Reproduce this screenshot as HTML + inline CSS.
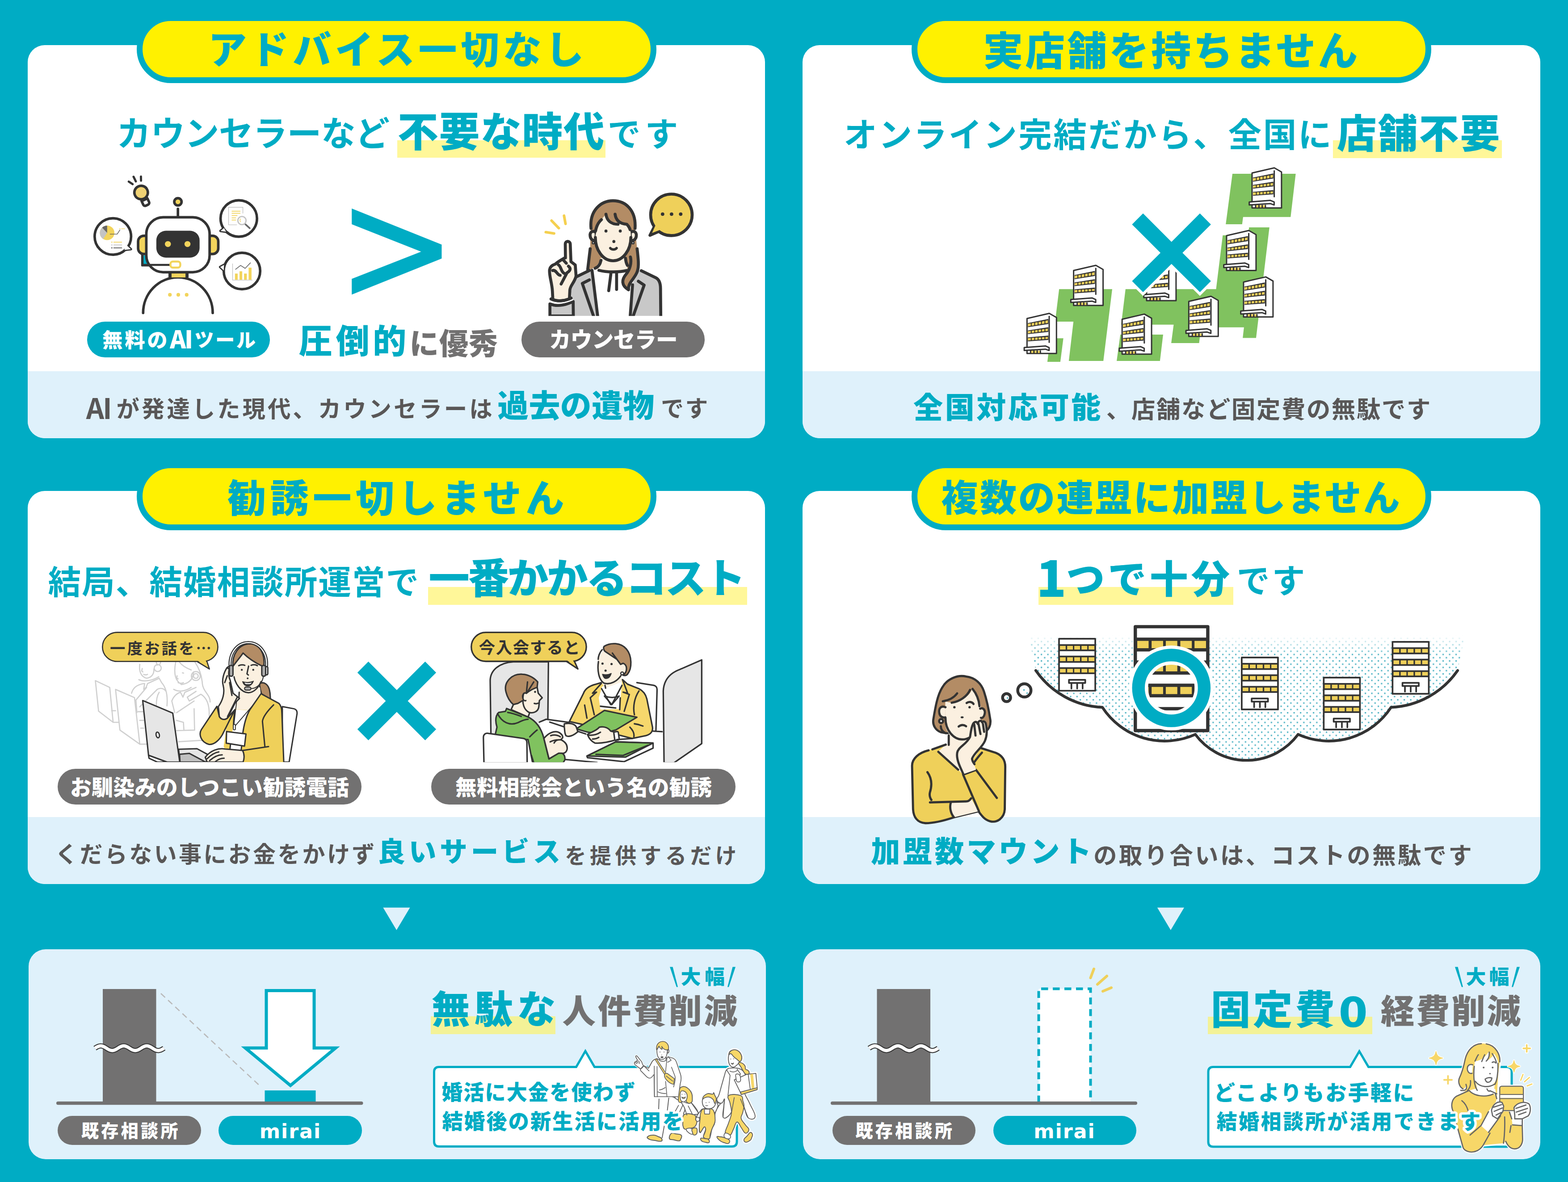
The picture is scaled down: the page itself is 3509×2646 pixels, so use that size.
<!DOCTYPE html>
<html lang="ja"><head><meta charset="utf-8"><title>mirai</title>
<style>
*{margin:0;padding:0;box-sizing:border-box}
html,body{width:3509px;height:2646px;background:#00acc4;overflow:hidden}
body{font-family:"Liberation Sans","Noto Sans CJK JP",sans-serif}
#page{position:relative;width:3509px;height:2646px;background:#00acc4;overflow:hidden}
.abs{position:absolute}
.card{position:absolute;width:1650.2px;height:880px;background:#fff;border-radius:38px;overflow:hidden}
.card .foot{position:absolute;left:0;right:0;bottom:0;height:150px;background:#dff1fb}
.pill{position:absolute;width:1163px;height:152px;border-radius:76px;background:#fff100;border:13.5px solid #00acc4}
.panel{position:absolute;width:1650px;height:469.5px;background:#dff1fb;border-radius:38px}
.t{position:absolute;white-space:nowrap;line-height:1}
.halo{text-shadow:5.50px 0.00px 0 #fff,5.23px 1.70px 0 #fff,4.45px 3.23px 0 #fff,3.23px 4.45px 0 #fff,1.70px 5.23px 0 #fff,0.00px 5.50px 0 #fff,-1.70px 5.23px 0 #fff,-3.23px 4.45px 0 #fff,-4.45px 3.23px 0 #fff,-5.23px 1.70px 0 #fff,-5.50px 0.00px 0 #fff,-5.23px -1.70px 0 #fff,-4.45px -3.23px 0 #fff,-3.23px -4.45px 0 #fff,-1.70px -5.23px 0 #fff,-0.00px -5.50px 0 #fff,1.70px -5.23px 0 #fff,3.23px -4.45px 0 #fff,4.45px -3.23px 0 #fff,5.23px -1.70px 0 #fff,3.00px 0.00px 0 #fff,2.43px 1.76px 0 #fff,0.93px 2.85px 0 #fff,-0.93px 2.85px 0 #fff,-2.43px 1.76px 0 #fff,-3.00px 0.00px 0 #fff,-2.43px -1.76px 0 #fff,-0.93px -2.85px 0 #fff,0.93px -2.85px 0 #fff,2.43px -1.76px 0 #fff}
.halo2{-webkit-text-stroke:12px #fff;paint-order:stroke fill}
.hl{position:absolute;background:#fff799}
.lab{position:absolute;border-radius:40px}
svg{position:absolute;overflow:visible}
</style></head>
<body><div id="page">
<div class="card" style="left:62.2px;top:101px"><div class="foot"></div></div>
<div class="card" style="left:1796.4px;top:101px"><div class="foot"></div></div>
<div class="card" style="left:62.2px;top:1098.5px"><div class="foot"></div></div>
<div class="card" style="left:1796.4px;top:1098.5px"><div class="foot"></div></div>
<div class="panel" style="left:64px;top:2125px"></div>
<div class="panel" style="left:1796.5px;top:2125px"></div>
<div class="pill" style="left:306px;top:34px"></div>
<div class="pill" style="left:2040px;top:34px"></div>
<div class="pill" style="left:306px;top:1035px"></div>
<div class="pill" style="left:2040px;top:1035px"></div>
<div class="hl" style="left:889px;top:314px;width:466px;height:39px;background:#fff799"></div>
<div class="hl" style="left:2983px;top:314px;width:377.5px;height:39.5px;background:#fff799"></div>
<div class="hl" style="left:957.5px;top:1314px;width:714.0px;height:39.5px;background:#fff799"></div>
<div class="hl" style="left:2324px;top:1314px;width:436px;height:39.5px;background:#fff799"></div>
<div class="hl" style="left:964px;top:2275px;width:279px;height:40px;background:#f3f297"></div>
<div class="hl" style="left:2703px;top:2276px;width:367.5px;height:38.5px;background:#f3f297"></div>
<div class="lab" style="left:195px;top:720px;width:409px;height:80px;background:#00acc4;border-radius:40.0px"></div>
<div class="lab" style="left:1166.5px;top:720px;width:410.0px;height:80px;background:#727171;border-radius:40.0px"></div>
<div class="lab" style="left:129px;top:1721px;width:680px;height:80px;background:#727171;border-radius:40.0px"></div>
<div class="lab" style="left:965px;top:1721px;width:681px;height:80px;background:#727171;border-radius:40.0px"></div>
<div class="lab" style="left:129px;top:2498px;width:321px;height:65.30000000000018px;background:#727171;border-radius:32.65000000000009px"></div>
<div class="lab" style="left:489.3px;top:2498px;width:320.7px;height:65.30000000000018px;background:#00acc4;border-radius:32.65000000000009px"></div>
<div class="lab" style="left:1862.5px;top:2498px;width:320.0px;height:65.30000000000018px;background:#727171;border-radius:32.65000000000009px"></div>
<div class="lab" style="left:2222.5px;top:2498px;width:320.0px;height:65.30000000000018px;background:#00acc4;border-radius:32.65000000000009px"></div>
<svg class="abs" style="left:0;top:0" width="3509" height="2646" viewBox="0 0 3509 2646"><polygon points="2758.06,388.99 2899.65,388.99 2888.26,485.82 2781.93,485.82 2779.76,502.1 2743.14,502.1" fill="#80c25f"/>
<polygon points="2795.22,508.88 2840.79,508.88 2810.95,756.52 2781.12,756.52 2783.83,732.65 2687.81,732.65 2683.47,767.92 2621.08,767.92 2626.51,726.69 2509.06,726.69 2518.82,647.21 2721.44,647.21 2736.36,526.78 2793.32,526.78" fill="#80c25f"/>
<polygon points="2507.16,748.93 2602.91,748.93 2595.86,808.06 2499.02,808.06" fill="#80c25f"/>
<polygon points="2370.18,647.21 2488.99,647.21 2469.18,808.06 2391.88,808.06 2402.19,719.91 2361.23,719.91" fill="#80c25f"/>
<polygon points="2350.38,757.34 2379.67,757.34 2372.89,809.96 2343.87,809.96" fill="#80c25f"/>
<g stroke="#333333" stroke-width="3.0" stroke-linejoin="round" stroke-linecap="round"><polygon points="2801.95,465.4 2801.95,387.28 2851.72,375.75 2867.87,384.98 2867.87,465.4" fill="#fff"/><polygon points="2803.93,397.5 2849.74,388.27 2849.74,399.48 2803.93,406.73" fill="#333333" stroke="none"/><polygon points="2803.93,399.15 2810.42,398.01 2810.42,403.76 2803.93,404.88" fill="#efd05a" stroke="none"/><polygon points="2812.48,397.65 2818.05,396.67 2818.05,402.45 2812.48,403.41" fill="#efd05a" stroke="none"/><polygon points="2820.12,396.31 2825.69,395.33 2825.69,401.13 2820.12,402.09" fill="#efd05a" stroke="none"/><polygon points="2827.75,394.97 2833.33,393.99 2833.33,399.81 2827.75,400.77" fill="#efd05a" stroke="none"/><polygon points="2835.39,393.63 2840.96,392.65 2840.96,398.49 2835.39,399.45" fill="#efd05a" stroke="none"/><polygon points="2843.02,392.29 2848.6,391.31 2848.6,397.17 2843.02,398.13" fill="#efd05a" stroke="none"/><polygon points="2803.93,413.98 2849.74,406.73 2849.74,417.28 2803.93,422.22" fill="#333333" stroke="none"/><polygon points="2803.93,415.63 2810.42,414.77 2810.42,419.58 2803.93,420.38" fill="#efd05a" stroke="none"/><polygon points="2812.48,414.5 2818.05,413.76 2818.05,418.65 2812.48,419.33" fill="#efd05a" stroke="none"/><polygon points="2820.12,413.49 2825.69,412.75 2825.69,417.71 2820.12,418.4" fill="#efd05a" stroke="none"/><polygon points="2827.75,412.48 2833.33,411.74 2833.33,416.78 2827.75,417.46" fill="#efd05a" stroke="none"/><polygon points="2835.39,411.46 2840.96,410.73 2840.96,415.85 2835.39,416.53" fill="#efd05a" stroke="none"/><polygon points="2843.02,410.45 2848.6,409.72 2848.6,414.91 2843.02,415.59" fill="#efd05a" stroke="none"/><polygon points="2803.93,429.47 2849.74,425.52 2849.74,435.08 2803.93,438.37" fill="#333333" stroke="none"/><polygon points="2803.93,431.12 2810.42,430.73 2810.42,435.97 2803.93,436.53" fill="#efd05a" stroke="none"/><polygon points="2812.48,430.6 2818.05,430.27 2818.05,435.31 2812.48,435.79" fill="#efd05a" stroke="none"/><polygon points="2820.12,430.14 2825.69,429.81 2825.69,434.65 2820.12,435.13" fill="#efd05a" stroke="none"/><polygon points="2827.75,429.68 2833.33,429.34 2833.33,433.99 2827.75,434.47" fill="#efd05a" stroke="none"/><polygon points="2835.39,429.22 2840.96,428.88 2840.96,433.33 2835.39,433.81" fill="#efd05a" stroke="none"/><polygon points="2843.02,428.76 2848.6,428.42 2848.6,432.67 2843.02,433.15" fill="#efd05a" stroke="none"/><line x1="2851.59" y1="382.47" x2="2851.59" y2="440.35"/><rect x="2809.86" y="459.14" width="22.08" height="5.27" fill="#efd05a" stroke="none"/><line x1="2809.86" y1="459.8" x2="2809.86" y2="464.74"/><line x1="2817.44" y1="459.8" x2="2817.44" y2="464.74"/><line x1="2824.69" y1="459.8" x2="2824.69" y2="464.74"/><line x1="2831.94" y1="459.8" x2="2831.94" y2="464.74"/><polygon points="2795.69,452.21 2843.15,448.59 2851.39,452.21 2851.39,458.81 2843.15,455.84 2795.69,458.81" fill="#fff"/></g>
<g stroke="#333333" stroke-width="3.0" stroke-linejoin="round" stroke-linecap="round"><polygon points="2744.95,605.6 2744.95,527.48 2794.72,515.95 2810.87,525.18 2810.87,605.6" fill="#fff"/><polygon points="2746.93,537.7 2792.74,528.47 2792.74,539.68 2746.93,546.93" fill="#333333" stroke="none"/><polygon points="2746.93,539.35 2753.42,538.21 2753.42,543.96 2746.93,545.08" fill="#efd05a" stroke="none"/><polygon points="2755.48,537.85 2761.05,536.87 2761.05,542.65 2755.48,543.61" fill="#efd05a" stroke="none"/><polygon points="2763.12,536.51 2768.69,535.53 2768.69,541.33 2763.12,542.29" fill="#efd05a" stroke="none"/><polygon points="2770.75,535.17 2776.33,534.19 2776.33,540.01 2770.75,540.97" fill="#efd05a" stroke="none"/><polygon points="2778.39,533.83 2783.96,532.85 2783.96,538.69 2778.39,539.65" fill="#efd05a" stroke="none"/><polygon points="2786.02,532.49 2791.6,531.51 2791.6,537.37 2786.02,538.33" fill="#efd05a" stroke="none"/><polygon points="2746.93,554.18 2792.74,546.93 2792.74,557.48 2746.93,562.42" fill="#333333" stroke="none"/><polygon points="2746.93,555.83 2753.42,554.97 2753.42,559.78 2746.93,560.58" fill="#efd05a" stroke="none"/><polygon points="2755.48,554.7 2761.05,553.96 2761.05,558.85 2755.48,559.53" fill="#efd05a" stroke="none"/><polygon points="2763.12,553.69 2768.69,552.95 2768.69,557.91 2763.12,558.6" fill="#efd05a" stroke="none"/><polygon points="2770.75,552.68 2776.33,551.94 2776.33,556.98 2770.75,557.66" fill="#efd05a" stroke="none"/><polygon points="2778.39,551.66 2783.96,550.93 2783.96,556.05 2778.39,556.73" fill="#efd05a" stroke="none"/><polygon points="2786.02,550.65 2791.6,549.92 2791.6,555.11 2786.02,555.79" fill="#efd05a" stroke="none"/><polygon points="2746.93,569.67 2792.74,565.72 2792.74,575.28 2746.93,578.57" fill="#333333" stroke="none"/><polygon points="2746.93,571.32 2753.42,570.93 2753.42,576.17 2746.93,576.73" fill="#efd05a" stroke="none"/><polygon points="2755.48,570.8 2761.05,570.47 2761.05,575.51 2755.48,575.99" fill="#efd05a" stroke="none"/><polygon points="2763.12,570.34 2768.69,570.01 2768.69,574.85 2763.12,575.33" fill="#efd05a" stroke="none"/><polygon points="2770.75,569.88 2776.33,569.54 2776.33,574.19 2770.75,574.67" fill="#efd05a" stroke="none"/><polygon points="2778.39,569.42 2783.96,569.08 2783.96,573.53 2778.39,574.01" fill="#efd05a" stroke="none"/><polygon points="2786.02,568.96 2791.6,568.62 2791.6,572.87 2786.02,573.35" fill="#efd05a" stroke="none"/><line x1="2794.59" y1="522.67" x2="2794.59" y2="580.55"/><rect x="2752.86" y="599.34" width="22.08" height="5.27" fill="#efd05a" stroke="none"/><line x1="2752.86" y1="600" x2="2752.86" y2="604.94"/><line x1="2760.44" y1="600" x2="2760.44" y2="604.94"/><line x1="2767.69" y1="600" x2="2767.69" y2="604.94"/><line x1="2774.94" y1="600" x2="2774.94" y2="604.94"/><polygon points="2738.69,592.41 2786.15,588.79 2794.39,592.41 2794.39,599.01 2786.15,596.04 2738.69,599.01" fill="#fff"/></g>
<g stroke="#333333" stroke-width="3.0" stroke-linejoin="round" stroke-linecap="round"><polygon points="2782.95,709.5 2782.95,631.38 2832.72,619.85 2848.87,629.08 2848.87,709.5" fill="#fff"/><polygon points="2784.93,641.6 2830.74,632.37 2830.74,643.58 2784.93,650.83" fill="#333333" stroke="none"/><polygon points="2784.93,643.25 2791.42,642.11 2791.42,647.86 2784.93,648.98" fill="#efd05a" stroke="none"/><polygon points="2793.48,641.75 2799.05,640.77 2799.05,646.55 2793.48,647.51" fill="#efd05a" stroke="none"/><polygon points="2801.12,640.41 2806.69,639.43 2806.69,645.23 2801.12,646.19" fill="#efd05a" stroke="none"/><polygon points="2808.75,639.07 2814.33,638.09 2814.33,643.91 2808.75,644.87" fill="#efd05a" stroke="none"/><polygon points="2816.39,637.73 2821.96,636.75 2821.96,642.59 2816.39,643.55" fill="#efd05a" stroke="none"/><polygon points="2824.02,636.39 2829.6,635.41 2829.6,641.27 2824.02,642.23" fill="#efd05a" stroke="none"/><polygon points="2784.93,658.08 2830.74,650.83 2830.74,661.38 2784.93,666.32" fill="#333333" stroke="none"/><polygon points="2784.93,659.73 2791.42,658.87 2791.42,663.68 2784.93,664.48" fill="#efd05a" stroke="none"/><polygon points="2793.48,658.6 2799.05,657.86 2799.05,662.75 2793.48,663.43" fill="#efd05a" stroke="none"/><polygon points="2801.12,657.59 2806.69,656.85 2806.69,661.81 2801.12,662.5" fill="#efd05a" stroke="none"/><polygon points="2808.75,656.58 2814.33,655.84 2814.33,660.88 2808.75,661.56" fill="#efd05a" stroke="none"/><polygon points="2816.39,655.56 2821.96,654.83 2821.96,659.95 2816.39,660.63" fill="#efd05a" stroke="none"/><polygon points="2824.02,654.55 2829.6,653.82 2829.6,659.01 2824.02,659.69" fill="#efd05a" stroke="none"/><polygon points="2784.93,673.57 2830.74,669.62 2830.74,679.18 2784.93,682.47" fill="#333333" stroke="none"/><polygon points="2784.93,675.22 2791.42,674.83 2791.42,680.07 2784.93,680.63" fill="#efd05a" stroke="none"/><polygon points="2793.48,674.7 2799.05,674.37 2799.05,679.41 2793.48,679.89" fill="#efd05a" stroke="none"/><polygon points="2801.12,674.24 2806.69,673.91 2806.69,678.75 2801.12,679.23" fill="#efd05a" stroke="none"/><polygon points="2808.75,673.78 2814.33,673.44 2814.33,678.09 2808.75,678.57" fill="#efd05a" stroke="none"/><polygon points="2816.39,673.32 2821.96,672.98 2821.96,677.43 2816.39,677.91" fill="#efd05a" stroke="none"/><polygon points="2824.02,672.86 2829.6,672.52 2829.6,676.77 2824.02,677.25" fill="#efd05a" stroke="none"/><line x1="2832.59" y1="626.57" x2="2832.59" y2="684.45"/><rect x="2790.86" y="703.24" width="22.08" height="5.27" fill="#efd05a" stroke="none"/><line x1="2790.86" y1="703.9" x2="2790.86" y2="708.84"/><line x1="2798.44" y1="703.9" x2="2798.44" y2="708.84"/><line x1="2805.69" y1="703.9" x2="2805.69" y2="708.84"/><line x1="2812.94" y1="703.9" x2="2812.94" y2="708.84"/><polygon points="2776.69,696.31 2824.15,692.69 2832.39,696.31 2832.39,702.91 2824.15,699.94 2776.69,702.91" fill="#fff"/></g>
<g stroke="#333333" stroke-width="3.0" stroke-linejoin="round" stroke-linecap="round"><polygon points="2565.95,672.9 2565.95,594.78 2615.72,583.25 2631.87,592.48 2631.87,672.9" fill="#fff"/><polygon points="2567.93,605 2613.74,595.77 2613.74,606.98 2567.93,614.23" fill="#333333" stroke="none"/><polygon points="2567.93,606.65 2574.42,605.51 2574.42,611.26 2567.93,612.38" fill="#efd05a" stroke="none"/><polygon points="2576.48,605.15 2582.05,604.17 2582.05,609.95 2576.48,610.91" fill="#efd05a" stroke="none"/><polygon points="2584.12,603.81 2589.69,602.83 2589.69,608.63 2584.12,609.59" fill="#efd05a" stroke="none"/><polygon points="2591.75,602.47 2597.33,601.49 2597.33,607.31 2591.75,608.27" fill="#efd05a" stroke="none"/><polygon points="2599.39,601.13 2604.96,600.15 2604.96,605.99 2599.39,606.95" fill="#efd05a" stroke="none"/><polygon points="2607.02,599.79 2612.6,598.81 2612.6,604.67 2607.02,605.63" fill="#efd05a" stroke="none"/><polygon points="2567.93,621.48 2613.74,614.23 2613.74,624.78 2567.93,629.72" fill="#333333" stroke="none"/><polygon points="2567.93,623.13 2574.42,622.27 2574.42,627.08 2567.93,627.88" fill="#efd05a" stroke="none"/><polygon points="2576.48,622 2582.05,621.26 2582.05,626.15 2576.48,626.83" fill="#efd05a" stroke="none"/><polygon points="2584.12,620.99 2589.69,620.25 2589.69,625.21 2584.12,625.9" fill="#efd05a" stroke="none"/><polygon points="2591.75,619.98 2597.33,619.24 2597.33,624.28 2591.75,624.96" fill="#efd05a" stroke="none"/><polygon points="2599.39,618.96 2604.96,618.23 2604.96,623.35 2599.39,624.03" fill="#efd05a" stroke="none"/><polygon points="2607.02,617.95 2612.6,617.22 2612.6,622.41 2607.02,623.09" fill="#efd05a" stroke="none"/><polygon points="2567.93,636.97 2613.74,633.02 2613.74,642.58 2567.93,645.87" fill="#333333" stroke="none"/><polygon points="2567.93,638.62 2574.42,638.23 2574.42,643.47 2567.93,644.03" fill="#efd05a" stroke="none"/><polygon points="2576.48,638.1 2582.05,637.77 2582.05,642.81 2576.48,643.29" fill="#efd05a" stroke="none"/><polygon points="2584.12,637.64 2589.69,637.31 2589.69,642.15 2584.12,642.63" fill="#efd05a" stroke="none"/><polygon points="2591.75,637.18 2597.33,636.84 2597.33,641.49 2591.75,641.97" fill="#efd05a" stroke="none"/><polygon points="2599.39,636.72 2604.96,636.38 2604.96,640.83 2599.39,641.31" fill="#efd05a" stroke="none"/><polygon points="2607.02,636.26 2612.6,635.92 2612.6,640.17 2607.02,640.65" fill="#efd05a" stroke="none"/><line x1="2615.59" y1="589.97" x2="2615.59" y2="647.85"/><rect x="2573.86" y="666.64" width="22.08" height="5.27" fill="#efd05a" stroke="none"/><line x1="2573.86" y1="667.3" x2="2573.86" y2="672.24"/><line x1="2581.44" y1="667.3" x2="2581.44" y2="672.24"/><line x1="2588.69" y1="667.3" x2="2588.69" y2="672.24"/><line x1="2595.94" y1="667.3" x2="2595.94" y2="672.24"/><polygon points="2559.69,659.71 2607.15,656.09 2615.39,659.71 2615.39,666.31 2607.15,663.34 2559.69,666.31" fill="#fff"/></g>
<g stroke="#333333" stroke-width="3.0" stroke-linejoin="round" stroke-linecap="round"><polygon points="2660.35,752.9 2660.35,674.78 2710.12,663.25 2726.27,672.48 2726.27,752.9" fill="#fff"/><polygon points="2662.33,685 2708.14,675.77 2708.14,686.98 2662.33,694.23" fill="#333333" stroke="none"/><polygon points="2662.33,686.65 2668.82,685.51 2668.82,691.26 2662.33,692.38" fill="#efd05a" stroke="none"/><polygon points="2670.88,685.15 2676.45,684.17 2676.45,689.95 2670.88,690.91" fill="#efd05a" stroke="none"/><polygon points="2678.52,683.81 2684.09,682.83 2684.09,688.63 2678.52,689.59" fill="#efd05a" stroke="none"/><polygon points="2686.15,682.47 2691.73,681.49 2691.73,687.31 2686.15,688.27" fill="#efd05a" stroke="none"/><polygon points="2693.79,681.13 2699.36,680.15 2699.36,685.99 2693.79,686.95" fill="#efd05a" stroke="none"/><polygon points="2701.42,679.79 2707,678.81 2707,684.67 2701.42,685.63" fill="#efd05a" stroke="none"/><polygon points="2662.33,701.48 2708.14,694.23 2708.14,704.78 2662.33,709.72" fill="#333333" stroke="none"/><polygon points="2662.33,703.13 2668.82,702.27 2668.82,707.08 2662.33,707.88" fill="#efd05a" stroke="none"/><polygon points="2670.88,702 2676.45,701.26 2676.45,706.15 2670.88,706.83" fill="#efd05a" stroke="none"/><polygon points="2678.52,700.99 2684.09,700.25 2684.09,705.21 2678.52,705.9" fill="#efd05a" stroke="none"/><polygon points="2686.15,699.98 2691.73,699.24 2691.73,704.28 2686.15,704.96" fill="#efd05a" stroke="none"/><polygon points="2693.79,698.96 2699.36,698.23 2699.36,703.35 2693.79,704.03" fill="#efd05a" stroke="none"/><polygon points="2701.42,697.95 2707,697.22 2707,702.41 2701.42,703.09" fill="#efd05a" stroke="none"/><polygon points="2662.33,716.97 2708.14,713.02 2708.14,722.58 2662.33,725.87" fill="#333333" stroke="none"/><polygon points="2662.33,718.62 2668.82,718.23 2668.82,723.47 2662.33,724.03" fill="#efd05a" stroke="none"/><polygon points="2670.88,718.1 2676.45,717.77 2676.45,722.81 2670.88,723.29" fill="#efd05a" stroke="none"/><polygon points="2678.52,717.64 2684.09,717.31 2684.09,722.15 2678.52,722.63" fill="#efd05a" stroke="none"/><polygon points="2686.15,717.18 2691.73,716.84 2691.73,721.49 2686.15,721.97" fill="#efd05a" stroke="none"/><polygon points="2693.79,716.72 2699.36,716.38 2699.36,720.83 2693.79,721.31" fill="#efd05a" stroke="none"/><polygon points="2701.42,716.26 2707,715.92 2707,720.17 2701.42,720.65" fill="#efd05a" stroke="none"/><line x1="2709.99" y1="669.97" x2="2709.99" y2="727.85"/><rect x="2668.26" y="746.64" width="22.08" height="5.27" fill="#efd05a" stroke="none"/><line x1="2668.26" y1="747.3" x2="2668.26" y2="752.24"/><line x1="2675.84" y1="747.3" x2="2675.84" y2="752.24"/><line x1="2683.09" y1="747.3" x2="2683.09" y2="752.24"/><line x1="2690.34" y1="747.3" x2="2690.34" y2="752.24"/><polygon points="2654.09,739.71 2701.55,736.09 2709.79,739.71 2709.79,746.31 2701.55,743.34 2654.09,746.31" fill="#fff"/></g>
<g stroke="#333333" stroke-width="3.0" stroke-linejoin="round" stroke-linecap="round"><polygon points="2511.15,792.8 2511.15,714.68 2560.92,703.15 2577.07,712.38 2577.07,792.8" fill="#fff"/><polygon points="2513.13,724.9 2558.94,715.67 2558.94,726.88 2513.13,734.13" fill="#333333" stroke="none"/><polygon points="2513.13,726.55 2519.62,725.41 2519.62,731.16 2513.13,732.28" fill="#efd05a" stroke="none"/><polygon points="2521.68,725.05 2527.25,724.07 2527.25,729.85 2521.68,730.81" fill="#efd05a" stroke="none"/><polygon points="2529.32,723.71 2534.89,722.73 2534.89,728.53 2529.32,729.49" fill="#efd05a" stroke="none"/><polygon points="2536.95,722.37 2542.53,721.39 2542.53,727.21 2536.95,728.17" fill="#efd05a" stroke="none"/><polygon points="2544.59,721.03 2550.16,720.05 2550.16,725.89 2544.59,726.85" fill="#efd05a" stroke="none"/><polygon points="2552.22,719.69 2557.8,718.71 2557.8,724.57 2552.22,725.53" fill="#efd05a" stroke="none"/><polygon points="2513.13,741.38 2558.94,734.13 2558.94,744.68 2513.13,749.62" fill="#333333" stroke="none"/><polygon points="2513.13,743.03 2519.62,742.17 2519.62,746.98 2513.13,747.78" fill="#efd05a" stroke="none"/><polygon points="2521.68,741.9 2527.25,741.16 2527.25,746.05 2521.68,746.73" fill="#efd05a" stroke="none"/><polygon points="2529.32,740.89 2534.89,740.15 2534.89,745.11 2529.32,745.8" fill="#efd05a" stroke="none"/><polygon points="2536.95,739.88 2542.53,739.14 2542.53,744.18 2536.95,744.86" fill="#efd05a" stroke="none"/><polygon points="2544.59,738.86 2550.16,738.13 2550.16,743.25 2544.59,743.93" fill="#efd05a" stroke="none"/><polygon points="2552.22,737.85 2557.8,737.12 2557.8,742.31 2552.22,742.99" fill="#efd05a" stroke="none"/><polygon points="2513.13,756.87 2558.94,752.92 2558.94,762.48 2513.13,765.77" fill="#333333" stroke="none"/><polygon points="2513.13,758.52 2519.62,758.13 2519.62,763.37 2513.13,763.93" fill="#efd05a" stroke="none"/><polygon points="2521.68,758 2527.25,757.67 2527.25,762.71 2521.68,763.19" fill="#efd05a" stroke="none"/><polygon points="2529.32,757.54 2534.89,757.21 2534.89,762.05 2529.32,762.53" fill="#efd05a" stroke="none"/><polygon points="2536.95,757.08 2542.53,756.74 2542.53,761.39 2536.95,761.87" fill="#efd05a" stroke="none"/><polygon points="2544.59,756.62 2550.16,756.28 2550.16,760.73 2544.59,761.21" fill="#efd05a" stroke="none"/><polygon points="2552.22,756.16 2557.8,755.82 2557.8,760.07 2552.22,760.55" fill="#efd05a" stroke="none"/><line x1="2560.79" y1="709.87" x2="2560.79" y2="767.75"/><rect x="2519.06" y="786.54" width="22.08" height="5.27" fill="#efd05a" stroke="none"/><line x1="2519.06" y1="787.2" x2="2519.06" y2="792.14"/><line x1="2526.64" y1="787.2" x2="2526.64" y2="792.14"/><line x1="2533.89" y1="787.2" x2="2533.89" y2="792.14"/><line x1="2541.14" y1="787.2" x2="2541.14" y2="792.14"/><polygon points="2504.89,779.61 2552.35,775.99 2560.59,779.61 2560.59,786.21 2552.35,783.24 2504.89,786.21" fill="#fff"/></g>
<g stroke="#333333" stroke-width="3.0" stroke-linejoin="round" stroke-linecap="round"><polygon points="2402.65,683.7 2402.65,605.58 2452.42,594.05 2468.57,603.28 2468.57,683.7" fill="#fff"/><polygon points="2404.63,615.8 2450.44,606.57 2450.44,617.78 2404.63,625.03" fill="#333333" stroke="none"/><polygon points="2404.63,617.45 2411.12,616.31 2411.12,622.06 2404.63,623.18" fill="#efd05a" stroke="none"/><polygon points="2413.18,615.95 2418.75,614.97 2418.75,620.75 2413.18,621.71" fill="#efd05a" stroke="none"/><polygon points="2420.82,614.61 2426.39,613.63 2426.39,619.43 2420.82,620.39" fill="#efd05a" stroke="none"/><polygon points="2428.45,613.27 2434.03,612.29 2434.03,618.11 2428.45,619.07" fill="#efd05a" stroke="none"/><polygon points="2436.09,611.93 2441.66,610.95 2441.66,616.79 2436.09,617.75" fill="#efd05a" stroke="none"/><polygon points="2443.72,610.59 2449.3,609.61 2449.3,615.47 2443.72,616.43" fill="#efd05a" stroke="none"/><polygon points="2404.63,632.28 2450.44,625.03 2450.44,635.58 2404.63,640.52" fill="#333333" stroke="none"/><polygon points="2404.63,633.93 2411.12,633.07 2411.12,637.88 2404.63,638.68" fill="#efd05a" stroke="none"/><polygon points="2413.18,632.8 2418.75,632.06 2418.75,636.95 2413.18,637.63" fill="#efd05a" stroke="none"/><polygon points="2420.82,631.79 2426.39,631.05 2426.39,636.01 2420.82,636.7" fill="#efd05a" stroke="none"/><polygon points="2428.45,630.78 2434.03,630.04 2434.03,635.08 2428.45,635.76" fill="#efd05a" stroke="none"/><polygon points="2436.09,629.76 2441.66,629.03 2441.66,634.15 2436.09,634.83" fill="#efd05a" stroke="none"/><polygon points="2443.72,628.75 2449.3,628.02 2449.3,633.21 2443.72,633.89" fill="#efd05a" stroke="none"/><polygon points="2404.63,647.77 2450.44,643.82 2450.44,653.38 2404.63,656.67" fill="#333333" stroke="none"/><polygon points="2404.63,649.42 2411.12,649.03 2411.12,654.27 2404.63,654.83" fill="#efd05a" stroke="none"/><polygon points="2413.18,648.9 2418.75,648.57 2418.75,653.61 2413.18,654.09" fill="#efd05a" stroke="none"/><polygon points="2420.82,648.44 2426.39,648.11 2426.39,652.95 2420.82,653.43" fill="#efd05a" stroke="none"/><polygon points="2428.45,647.98 2434.03,647.64 2434.03,652.29 2428.45,652.77" fill="#efd05a" stroke="none"/><polygon points="2436.09,647.52 2441.66,647.18 2441.66,651.63 2436.09,652.11" fill="#efd05a" stroke="none"/><polygon points="2443.72,647.06 2449.3,646.72 2449.3,650.97 2443.72,651.45" fill="#efd05a" stroke="none"/><line x1="2452.29" y1="600.77" x2="2452.29" y2="658.65"/><rect x="2410.56" y="677.44" width="22.08" height="5.27" fill="#efd05a" stroke="none"/><line x1="2410.56" y1="678.1" x2="2410.56" y2="683.04"/><line x1="2418.14" y1="678.1" x2="2418.14" y2="683.04"/><line x1="2425.39" y1="678.1" x2="2425.39" y2="683.04"/><line x1="2432.64" y1="678.1" x2="2432.64" y2="683.04"/><polygon points="2396.39,670.51 2443.85,666.89 2452.09,670.51 2452.09,677.11 2443.85,674.14 2396.39,677.11" fill="#fff"/></g>
<g stroke="#333333" stroke-width="3.0" stroke-linejoin="round" stroke-linecap="round"><polygon points="2298.35,791.2 2298.35,713.08 2348.12,701.55 2364.27,710.78 2364.27,791.2" fill="#fff"/><polygon points="2300.33,723.3 2346.14,714.07 2346.14,725.28 2300.33,732.53" fill="#333333" stroke="none"/><polygon points="2300.33,724.95 2306.82,723.81 2306.82,729.56 2300.33,730.68" fill="#efd05a" stroke="none"/><polygon points="2308.88,723.45 2314.45,722.47 2314.45,728.25 2308.88,729.21" fill="#efd05a" stroke="none"/><polygon points="2316.52,722.11 2322.09,721.13 2322.09,726.93 2316.52,727.89" fill="#efd05a" stroke="none"/><polygon points="2324.15,720.77 2329.73,719.79 2329.73,725.61 2324.15,726.57" fill="#efd05a" stroke="none"/><polygon points="2331.79,719.43 2337.36,718.45 2337.36,724.29 2331.79,725.25" fill="#efd05a" stroke="none"/><polygon points="2339.42,718.09 2345,717.11 2345,722.97 2339.42,723.93" fill="#efd05a" stroke="none"/><polygon points="2300.33,739.78 2346.14,732.53 2346.14,743.08 2300.33,748.02" fill="#333333" stroke="none"/><polygon points="2300.33,741.43 2306.82,740.57 2306.82,745.38 2300.33,746.18" fill="#efd05a" stroke="none"/><polygon points="2308.88,740.3 2314.45,739.56 2314.45,744.45 2308.88,745.13" fill="#efd05a" stroke="none"/><polygon points="2316.52,739.29 2322.09,738.55 2322.09,743.51 2316.52,744.2" fill="#efd05a" stroke="none"/><polygon points="2324.15,738.28 2329.73,737.54 2329.73,742.58 2324.15,743.26" fill="#efd05a" stroke="none"/><polygon points="2331.79,737.26 2337.36,736.53 2337.36,741.65 2331.79,742.33" fill="#efd05a" stroke="none"/><polygon points="2339.42,736.25 2345,735.52 2345,740.71 2339.42,741.39" fill="#efd05a" stroke="none"/><polygon points="2300.33,755.27 2346.14,751.32 2346.14,760.88 2300.33,764.17" fill="#333333" stroke="none"/><polygon points="2300.33,756.92 2306.82,756.53 2306.82,761.77 2300.33,762.33" fill="#efd05a" stroke="none"/><polygon points="2308.88,756.4 2314.45,756.07 2314.45,761.11 2308.88,761.59" fill="#efd05a" stroke="none"/><polygon points="2316.52,755.94 2322.09,755.61 2322.09,760.45 2316.52,760.93" fill="#efd05a" stroke="none"/><polygon points="2324.15,755.48 2329.73,755.14 2329.73,759.79 2324.15,760.27" fill="#efd05a" stroke="none"/><polygon points="2331.79,755.02 2337.36,754.68 2337.36,759.13 2331.79,759.61" fill="#efd05a" stroke="none"/><polygon points="2339.42,754.56 2345,754.22 2345,758.47 2339.42,758.95" fill="#efd05a" stroke="none"/><line x1="2347.99" y1="708.27" x2="2347.99" y2="766.15"/><rect x="2306.26" y="784.94" width="22.08" height="5.27" fill="#efd05a" stroke="none"/><line x1="2306.26" y1="785.6" x2="2306.26" y2="790.54"/><line x1="2313.84" y1="785.6" x2="2313.84" y2="790.54"/><line x1="2321.09" y1="785.6" x2="2321.09" y2="790.54"/><line x1="2328.34" y1="785.6" x2="2328.34" y2="790.54"/><polygon points="2292.09,778.01 2339.55,774.39 2347.79,778.01 2347.79,784.61 2339.55,781.64 2292.09,784.61" fill="#fff"/></g>
<defs>
<pattern id="dots" x="2300" y="1420" width="14.5" height="14.5" patternUnits="userSpaceOnUse">
<rect x="0" y="0" width="3.2" height="3.2" fill="#56b6c6"/><rect x="7.25" y="7.25" width="3.2" height="3.2" fill="#56b6c6"/></pattern>
<linearGradient id="fade" x1="0" y1="1422" x2="0" y2="1467" gradientUnits="userSpaceOnUse"><stop offset="0" stop-color="#fff" stop-opacity="1"/><stop offset="1" stop-color="#fff" stop-opacity="0"/></linearGradient>
<clipPath id="cloudclip"><path d="M2318 1501 A191.4 191.4 0 0 0 2467 1583.4 A166.42 166.42 0 0 0 2675 1644 A143.01 143.01 0 0 0 2905 1644 A166.42 166.42 0 0 0 3113 1583.4 A191.4 191.4 0 0 0 3262 1501 L3278 1422 L2302 1422 Z"/></clipPath>
</defs>
<path d="M2318 1501 A191.4 191.4 0 0 0 2467 1583.4 A166.42 166.42 0 0 0 2675 1644 A143.01 143.01 0 0 0 2905 1644 A166.42 166.42 0 0 0 3113 1583.4 A191.4 191.4 0 0 0 3262 1501 L3278 1422 L2302 1422 Z" fill="url(#dots)"/>
<rect x="2290" y="1420" width="1000" height="50" fill="url(#fade)"/>
<path d="M2318 1501 A191.4 191.4 0 0 0 2467 1583.4 A166.42 166.42 0 0 0 2675 1644 A143.01 143.01 0 0 0 2905 1644 A166.42 166.42 0 0 0 3113 1583.4 A191.4 191.4 0 0 0 3262 1501" fill="none" stroke="#333333" stroke-width="6.2" stroke-linecap="round" stroke-linejoin="round"/>
<circle cx="2292.4" cy="1545.5" r="14.8" fill="#fff" stroke="#333333" stroke-width="6.5"/>
<circle cx="2252.6" cy="1561.7" r="8.9" fill="#fff" stroke="#333333" stroke-width="6.5"/>
<rect x="2290" y="1543" width="3.2" height="3.2" fill="#56b6c6"/><rect x="2297" y="1550" width="3.2" height="3.2" fill="#56b6c6"/><rect x="2253" y="1561" width="3.2" height="3.2" fill="#56b6c6"/>
<g stroke="#333333" stroke-width="3.7" stroke-linejoin="round" stroke-linecap="round"><rect x="2369.95" y="1429.95" width="81.1" height="116.3" fill="#fff"/><rect x="2369.95" y="1442.15" width="81.1" height="15.56" fill="#333333" stroke="none"/><rect x="2372.11" y="1445.83" width="12.71" height="8.2" fill="#efd05a" stroke="none"/><rect x="2388.17" y="1445.83" width="12.88" height="8.2" fill="#efd05a" stroke="none"/><rect x="2404.07" y="1445.83" width="12.88" height="8.2" fill="#efd05a" stroke="none"/><rect x="2420.29" y="1445.83" width="12.88" height="8.2" fill="#efd05a" stroke="none"/><rect x="2436.18" y="1445.83" width="12.88" height="8.2" fill="#efd05a" stroke="none"/><rect x="2369.95" y="1467.75" width="81.1" height="15.89" fill="#333333" stroke="none"/><rect x="2372.11" y="1471.43" width="12.71" height="8.53" fill="#efd05a" stroke="none"/><rect x="2388.17" y="1471.43" width="12.88" height="8.53" fill="#efd05a" stroke="none"/><rect x="2404.07" y="1471.43" width="12.88" height="8.53" fill="#efd05a" stroke="none"/><rect x="2420.29" y="1471.43" width="12.88" height="8.53" fill="#efd05a" stroke="none"/><rect x="2436.18" y="1471.43" width="12.88" height="8.53" fill="#efd05a" stroke="none"/><rect x="2369.95" y="1493.67" width="81.1" height="15.39" fill="#333333" stroke="none"/><rect x="2372.11" y="1497.35" width="12.71" height="8.03" fill="#efd05a" stroke="none"/><rect x="2388.17" y="1497.35" width="12.88" height="8.03" fill="#efd05a" stroke="none"/><rect x="2404.07" y="1497.35" width="12.88" height="8.03" fill="#efd05a" stroke="none"/><rect x="2420.29" y="1497.35" width="12.88" height="8.03" fill="#efd05a" stroke="none"/><rect x="2436.18" y="1497.35" width="12.88" height="8.03" fill="#efd05a" stroke="none"/><rect x="2392.19" y="1521.78" width="36.47" height="7.03" fill="#fff"/><line x1="2397.71" y1="1530.48" x2="2397.71" y2="1541.35"/><line x1="2410.59" y1="1530.48" x2="2410.59" y2="1541.35"/><line x1="2422.8" y1="1530.48" x2="2422.8" y2="1541.35"/></g>
<g stroke="#333333" stroke-width="7.4" stroke-linejoin="round" stroke-linecap="round"><rect x="2540.7" y="1402.9" width="162.2" height="232.6" fill="#fff"/><rect x="2540.7" y="1427.3" width="162.2" height="31.11" fill="#333333" stroke="none"/><rect x="2545.03" y="1434.66" width="25.43" height="16.39" fill="#efd05a" stroke="none"/><rect x="2577.15" y="1434.66" width="25.76" height="16.39" fill="#efd05a" stroke="none"/><rect x="2608.93" y="1434.66" width="25.76" height="16.39" fill="#efd05a" stroke="none"/><rect x="2641.38" y="1434.66" width="25.76" height="16.39" fill="#efd05a" stroke="none"/><rect x="2673.17" y="1434.66" width="25.76" height="16.39" fill="#efd05a" stroke="none"/><rect x="2540.7" y="1478.49" width="162.2" height="31.78" fill="#333333" stroke="none"/><rect x="2545.03" y="1485.85" width="25.43" height="17.06" fill="#efd05a" stroke="none"/><rect x="2577.15" y="1485.85" width="25.76" height="17.06" fill="#efd05a" stroke="none"/><rect x="2608.93" y="1485.85" width="25.76" height="17.06" fill="#efd05a" stroke="none"/><rect x="2641.38" y="1485.85" width="25.76" height="17.06" fill="#efd05a" stroke="none"/><rect x="2673.17" y="1485.85" width="25.76" height="17.06" fill="#efd05a" stroke="none"/><rect x="2540.7" y="1530.35" width="162.2" height="30.78" fill="#333333" stroke="none"/><rect x="2545.03" y="1537.71" width="25.43" height="16.06" fill="#efd05a" stroke="none"/><rect x="2577.15" y="1537.71" width="25.76" height="16.06" fill="#efd05a" stroke="none"/><rect x="2608.93" y="1537.71" width="25.76" height="16.06" fill="#efd05a" stroke="none"/><rect x="2641.38" y="1537.71" width="25.76" height="16.06" fill="#efd05a" stroke="none"/><rect x="2673.17" y="1537.71" width="25.76" height="16.06" fill="#efd05a" stroke="none"/><rect x="2585.18" y="1586.55" width="72.93" height="14.05" fill="#fff"/><line x1="2596.22" y1="1603.95" x2="2596.22" y2="1625.7"/><line x1="2621.98" y1="1603.95" x2="2621.98" y2="1625.7"/><line x1="2646.4" y1="1603.95" x2="2646.4" y2="1625.7"/></g>
<g stroke="#333333" stroke-width="3.7" stroke-linejoin="round" stroke-linecap="round"><rect x="2778.85" y="1471.85" width="81.1" height="116.3" fill="#fff"/><rect x="2778.85" y="1484.05" width="81.1" height="15.56" fill="#333333" stroke="none"/><rect x="2781.01" y="1487.73" width="12.71" height="8.2" fill="#efd05a" stroke="none"/><rect x="2797.07" y="1487.73" width="12.88" height="8.2" fill="#efd05a" stroke="none"/><rect x="2812.97" y="1487.73" width="12.88" height="8.2" fill="#efd05a" stroke="none"/><rect x="2829.19" y="1487.73" width="12.88" height="8.2" fill="#efd05a" stroke="none"/><rect x="2845.08" y="1487.73" width="12.88" height="8.2" fill="#efd05a" stroke="none"/><rect x="2778.85" y="1509.65" width="81.1" height="15.89" fill="#333333" stroke="none"/><rect x="2781.01" y="1513.33" width="12.71" height="8.53" fill="#efd05a" stroke="none"/><rect x="2797.07" y="1513.33" width="12.88" height="8.53" fill="#efd05a" stroke="none"/><rect x="2812.97" y="1513.33" width="12.88" height="8.53" fill="#efd05a" stroke="none"/><rect x="2829.19" y="1513.33" width="12.88" height="8.53" fill="#efd05a" stroke="none"/><rect x="2845.08" y="1513.33" width="12.88" height="8.53" fill="#efd05a" stroke="none"/><rect x="2778.85" y="1535.57" width="81.1" height="15.39" fill="#333333" stroke="none"/><rect x="2781.01" y="1539.25" width="12.71" height="8.03" fill="#efd05a" stroke="none"/><rect x="2797.07" y="1539.25" width="12.88" height="8.03" fill="#efd05a" stroke="none"/><rect x="2812.97" y="1539.25" width="12.88" height="8.03" fill="#efd05a" stroke="none"/><rect x="2829.19" y="1539.25" width="12.88" height="8.03" fill="#efd05a" stroke="none"/><rect x="2845.08" y="1539.25" width="12.88" height="8.03" fill="#efd05a" stroke="none"/><rect x="2801.09" y="1563.68" width="36.47" height="7.03" fill="#fff"/><line x1="2806.61" y1="1572.38" x2="2806.61" y2="1583.25"/><line x1="2819.49" y1="1572.38" x2="2819.49" y2="1583.25"/><line x1="2831.7" y1="1572.38" x2="2831.7" y2="1583.25"/></g>
<g stroke="#333333" stroke-width="3.7" stroke-linejoin="round" stroke-linecap="round"><rect x="2962.35" y="1516.85" width="81.1" height="116.3" fill="#fff"/><rect x="2962.35" y="1529.05" width="81.1" height="15.56" fill="#333333" stroke="none"/><rect x="2964.51" y="1532.73" width="12.71" height="8.2" fill="#efd05a" stroke="none"/><rect x="2980.57" y="1532.73" width="12.88" height="8.2" fill="#efd05a" stroke="none"/><rect x="2996.47" y="1532.73" width="12.88" height="8.2" fill="#efd05a" stroke="none"/><rect x="3012.69" y="1532.73" width="12.88" height="8.2" fill="#efd05a" stroke="none"/><rect x="3028.58" y="1532.73" width="12.88" height="8.2" fill="#efd05a" stroke="none"/><rect x="2962.35" y="1554.65" width="81.1" height="15.89" fill="#333333" stroke="none"/><rect x="2964.51" y="1558.33" width="12.71" height="8.53" fill="#efd05a" stroke="none"/><rect x="2980.57" y="1558.33" width="12.88" height="8.53" fill="#efd05a" stroke="none"/><rect x="2996.47" y="1558.33" width="12.88" height="8.53" fill="#efd05a" stroke="none"/><rect x="3012.69" y="1558.33" width="12.88" height="8.53" fill="#efd05a" stroke="none"/><rect x="3028.58" y="1558.33" width="12.88" height="8.53" fill="#efd05a" stroke="none"/><rect x="2962.35" y="1580.57" width="81.1" height="15.39" fill="#333333" stroke="none"/><rect x="2964.51" y="1584.25" width="12.71" height="8.03" fill="#efd05a" stroke="none"/><rect x="2980.57" y="1584.25" width="12.88" height="8.03" fill="#efd05a" stroke="none"/><rect x="2996.47" y="1584.25" width="12.88" height="8.03" fill="#efd05a" stroke="none"/><rect x="3012.69" y="1584.25" width="12.88" height="8.03" fill="#efd05a" stroke="none"/><rect x="3028.58" y="1584.25" width="12.88" height="8.03" fill="#efd05a" stroke="none"/><rect x="2984.59" y="1608.68" width="36.47" height="7.03" fill="#fff"/><line x1="2990.11" y1="1617.38" x2="2990.11" y2="1628.25"/><line x1="3002.99" y1="1617.38" x2="3002.99" y2="1628.25"/><line x1="3015.2" y1="1617.38" x2="3015.2" y2="1628.25"/></g>
<g stroke="#333333" stroke-width="3.7" stroke-linejoin="round" stroke-linecap="round"><rect x="3116.35" y="1436.85" width="81.1" height="116.3" fill="#fff"/><rect x="3116.35" y="1449.05" width="81.1" height="15.56" fill="#333333" stroke="none"/><rect x="3118.51" y="1452.73" width="12.71" height="8.2" fill="#efd05a" stroke="none"/><rect x="3134.57" y="1452.73" width="12.88" height="8.2" fill="#efd05a" stroke="none"/><rect x="3150.47" y="1452.73" width="12.88" height="8.2" fill="#efd05a" stroke="none"/><rect x="3166.69" y="1452.73" width="12.88" height="8.2" fill="#efd05a" stroke="none"/><rect x="3182.58" y="1452.73" width="12.88" height="8.2" fill="#efd05a" stroke="none"/><rect x="3116.35" y="1474.65" width="81.1" height="15.89" fill="#333333" stroke="none"/><rect x="3118.51" y="1478.33" width="12.71" height="8.53" fill="#efd05a" stroke="none"/><rect x="3134.57" y="1478.33" width="12.88" height="8.53" fill="#efd05a" stroke="none"/><rect x="3150.47" y="1478.33" width="12.88" height="8.53" fill="#efd05a" stroke="none"/><rect x="3166.69" y="1478.33" width="12.88" height="8.53" fill="#efd05a" stroke="none"/><rect x="3182.58" y="1478.33" width="12.88" height="8.53" fill="#efd05a" stroke="none"/><rect x="3116.35" y="1500.57" width="81.1" height="15.39" fill="#333333" stroke="none"/><rect x="3118.51" y="1504.25" width="12.71" height="8.03" fill="#efd05a" stroke="none"/><rect x="3134.57" y="1504.25" width="12.88" height="8.03" fill="#efd05a" stroke="none"/><rect x="3150.47" y="1504.25" width="12.88" height="8.03" fill="#efd05a" stroke="none"/><rect x="3166.69" y="1504.25" width="12.88" height="8.03" fill="#efd05a" stroke="none"/><rect x="3182.58" y="1504.25" width="12.88" height="8.03" fill="#efd05a" stroke="none"/><rect x="3138.59" y="1528.68" width="36.47" height="7.03" fill="#fff"/><line x1="3144.11" y1="1537.38" x2="3144.11" y2="1548.25"/><line x1="3156.99" y1="1537.38" x2="3156.99" y2="1548.25"/><line x1="3169.2" y1="1537.38" x2="3169.2" y2="1548.25"/></g>
<circle cx="2621.3" cy="1540" r="73.6" fill="none" stroke="#fff" stroke-width="43"/>
<circle cx="2621.3" cy="1540" r="73.6" fill="none" stroke="#00acc4" stroke-width="28.4"/>
<rect x="230" y="2214" width="119.5" height="254" fill="#727171"/><path d="M212.5 2346.5 C222.8 2339.48 227.95 2339.48 238.25 2346.5 C248.55 2353.52 253.7 2353.52 264 2346.5 C274.3 2339.48 279.45 2339.48 289.75 2346.5 C300.05 2353.52 305.2 2353.52 315.5 2346.5 C325.8 2339.48 330.95 2339.48 341.25 2346.5 C351.55 2353.52 356.7 2353.52 367 2346.5" fill="none" stroke="#333333" stroke-width="11.5" stroke-linecap="butt"/><path d="M212.5 2346.5 C222.8 2339.48 227.95 2339.48 238.25 2346.5 C248.55 2353.52 253.7 2353.52 264 2346.5 C274.3 2339.48 279.45 2339.48 289.75 2346.5 C300.05 2353.52 305.2 2353.52 315.5 2346.5 C325.8 2339.48 330.95 2339.48 341.25 2346.5 C351.55 2353.52 356.7 2353.52 367 2346.5" fill="none" stroke="#fff" stroke-width="7.5" stroke-linecap="butt"/><line x1="360" y1="2224" x2="585" y2="2434" stroke="#b9b9b9" stroke-width="2.6" stroke-dasharray="13 9"/><polygon points="596,2217.5 703,2217.5 703,2346 751,2346 650,2430 549,2346 596,2346" fill="#fff" stroke="#00acc4" stroke-width="7" stroke-linejoin="miter"/><rect x="592.5" y="2441" width="114" height="28" fill="#00acc4"/><line x1="129.75" y1="2469.6" x2="808.75" y2="2469.6" stroke="#727171" stroke-width="7.5" stroke-linecap="round"/>
<rect x="1962.5" y="2214" width="119.5" height="254" fill="#727171"/><path d="M1945 2346.5 C1955.3 2339.48 1960.45 2339.48 1970.75 2346.5 C1981.05 2353.52 1986.2 2353.52 1996.5 2346.5 C2006.8 2339.48 2011.95 2339.48 2022.25 2346.5 C2032.55 2353.52 2037.7 2353.52 2048 2346.5 C2058.3 2339.48 2063.45 2339.48 2073.75 2346.5 C2084.05 2353.52 2089.2 2353.52 2099.5 2346.5" fill="none" stroke="#333333" stroke-width="11.5" stroke-linecap="butt"/><path d="M1945 2346.5 C1955.3 2339.48 1960.45 2339.48 1970.75 2346.5 C1981.05 2353.52 1986.2 2353.52 1996.5 2346.5 C2006.8 2339.48 2011.95 2339.48 2022.25 2346.5 C2032.55 2353.52 2037.7 2353.52 2048 2346.5 C2058.3 2339.48 2063.45 2339.48 2073.75 2346.5 C2084.05 2353.52 2089.2 2353.52 2099.5 2346.5" fill="none" stroke="#fff" stroke-width="7.5" stroke-linecap="butt"/><rect x="2324.5" y="2213.5" width="116" height="256" fill="#fff"/><path d="M2324.5 2468 V2213.5 H2440.5 V2468" fill="none" stroke="#00acc4" stroke-width="6" stroke-dasharray="15.5 10.5"/><line x1="2440.5" y1="2189" x2="2448" y2="2169" stroke="#efd05a" stroke-width="6" stroke-linecap="round"/><line x1="2456" y1="2203.5" x2="2477" y2="2185" stroke="#efd05a" stroke-width="6" stroke-linecap="round"/><line x1="2468" y1="2219" x2="2487" y2="2211" stroke="#efd05a" stroke-width="6" stroke-linecap="round"/><line x1="1862.75" y1="2469.6" x2="2541.25" y2="2469.6" stroke="#727171" stroke-width="7.5" stroke-linecap="round"/>
<path d="M982.5 2388.5 H1289.5 L1310 2353 L1330.5 2388.5 H1638 Q1649 2388.5 1649 2399.5 V2555.5 Q1649 2566.5 1638 2566.5 H982.5 Q971.5 2566.5 971.5 2555.5 V2399.5 Q971.5 2388.5 982.5 2388.5 Z" fill="#fff" stroke="#00acc4" stroke-width="5" stroke-linejoin="miter"/>
<path d="M2715 2388.5 H3021.5 L3042 2353.5 L3062.5 2388.5 H3372 Q3383 2388.5 3383 2399.5 V2556 Q3383 2567 3372 2567 H2715 Q2704 2567 2704 2556 V2399.5 Q2704 2388.5 2715 2388.5 Z" fill="#fff" stroke="#00acc4" stroke-width="5" stroke-linejoin="miter"/>
<polygon points="1499,2164.5 1505.5,2164.5 1517,2209.5 1514,2209.5" fill="#00acc4"/><polygon points="1646,2164.5 1639.5,2164.5 1628,2209.5 1631,2209.5" fill="#00acc4"/>
<polygon points="3256,2164.5 3262.5,2164.5 3274,2209.5 3271,2209.5" fill="#00acc4"/><polygon points="3401,2164.5 3394.5,2164.5 3383,2209.5 3386,2209.5" fill="#00acc4"/>
<g transform="translate(200 380) scale(0.20387)" stroke-linecap="round" stroke-linejoin="round" ><path d="M400 820 L455 872 L385 880 Z" fill="#fff" stroke="#333333" stroke-width="28"/><circle cx="258" cy="733" r="200" fill="#fff" stroke="#333333" stroke-width="28"/><path d="M400 820 L455 872 L385 880 Z" fill="#fff" stroke="none"/><path d="M1478 640 L1440 672 L1500 680 Z" fill="#fff" stroke="#333333" stroke-width="28"/><circle cx="1640" cy="535" r="200" fill="#fff" stroke="#333333" stroke-width="28"/><path d="M1478 640 L1440 672 L1500 680 Z" fill="#fff" stroke="none"/><path d="M1478 1045 L1436 1068 L1475 1105 Z" fill="#fff" stroke="#333333" stroke-width="28"/><circle cx="1675" cy="1112" r="200" fill="#fff" stroke="#333333" stroke-width="28"/><path d="M1478 1045 L1436 1068 L1475 1105 Z" fill="#fff" stroke="none"/><circle cx="195" cy="693" r="80" fill="#f2d45c"/><path d="M195 693 L151 760 A80 80 0 0 1 140 635 Z" fill="#c4c4c4"/><path d="M195 693 L140 635 A80 80 0 0 1 195 613 Z" fill="#666"/><path d="M228 707 H305 L335 662" fill="none" stroke="#555" stroke-width="7"/><circle cx="335" cy="648" r="6" fill="#f2d45c"/><line x1="352" y1="648" x2="388" y2="648" stroke="#f2d45c" stroke-width="7"/><circle cx="247" cy="795" r="6.5" fill="#f2d45c"/><line x1="268" y1="795" x2="355" y2="795" stroke="#f2d45c" stroke-width="9"/><circle cx="247" cy="826" r="6.5" fill="#c4c4c4"/><line x1="268" y1="826" x2="355" y2="826" stroke="#c4c4c4" stroke-width="9"/><circle cx="247" cy="858" r="6.5" fill="#555"/><line x1="268" y1="858" x2="355" y2="858" stroke="#555" stroke-width="9"/><path d="M1620 605 H1528 V412 H1685 V480" fill="none" stroke="#c4c4c4" stroke-width="7" stroke-linecap="butt" stroke-linejoin="miter"/><line x1="1562" y1="455" x2="1658" y2="455" stroke="#f2d45c" stroke-width="9" stroke-linecap="butt"/><line x1="1562" y1="478" x2="1658" y2="478" stroke="#f2d45c" stroke-width="9" stroke-linecap="butt"/><line x1="1562" y1="503" x2="1625" y2="503" stroke="#f2d45c" stroke-width="9" stroke-linecap="butt"/><line x1="1562" y1="528" x2="1610" y2="528" stroke="#f2d45c" stroke-width="9" stroke-linecap="butt"/><line x1="1562" y1="552" x2="1610" y2="552" stroke="#f2d45c" stroke-width="9" stroke-linecap="butt"/><line x1="1712" y1="598" x2="1760" y2="642" stroke="#666" stroke-width="18"/><circle cx="1675" cy="558" r="45" fill="#fff" stroke="#c4c4c4" stroke-width="14"/><path d="M1660 540 A22 22 0 0 0 1660 572" fill="none" stroke="#f2d45c" stroke-width="7"/><path d="M1572 1030 V1212 H1790" fill="none" stroke="#c4c4c4" stroke-width="7" stroke-linecap="butt" stroke-linejoin="miter"/><rect x="1598" y="1140" width="30" height="68" fill="#f2d45c"/><rect x="1648" y="1115" width="30" height="93" fill="#f2d45c"/><rect x="1698" y="1140" width="30" height="68" fill="#f2d45c"/><rect x="1748" y="1075" width="32" height="133" fill="#f2d45c"/><path d="M1605 1093 L1660 1050 L1710 1083 L1768 1022" fill="none" stroke="#666" stroke-width="8"/><g transform="rotate(-25 568 250)"><rect x="533" y="318" width="70" height="85" rx="22" fill="#fff" stroke="#333333" stroke-width="28"/><circle cx="568" cy="250" r="74" fill="#f0d274" stroke="#333333" stroke-width="28"/><line x1="536" y1="338" x2="600" y2="338" stroke="#333333" stroke-width="28"/></g><line x1="432" y1="130" x2="475" y2="158" stroke="#333333" stroke-width="24"/><line x1="485" y1="77" x2="510" y2="128" stroke="#333333" stroke-width="24"/><line x1="566" y1="74" x2="567" y2="120" stroke="#333333" stroke-width="24"/><path d="M590 1572 A382 390 0 0 1 1354 1572" fill="#fff" stroke="#333333" stroke-width="28"/><circle cx="884" cy="1373" r="20" fill="#f2d45c"/><circle cx="976" cy="1373" r="20" fill="#f2d45c"/><circle cx="1068" cy="1373" r="20" fill="#f2d45c"/><rect x="882" y="1120" width="190" height="62" fill="#f2d45c"/><rect x="868" y="1120" width="34" height="64" fill="#333333"/><rect x="1055" y="1120" width="34" height="64" fill="#333333"/><rect x="902" y="1120" width="153" height="14" fill="#fff"/><rect x="535" y="725" width="140" height="200" rx="62" fill="#f2d45c" stroke="#333333" stroke-width="28"/><rect x="1275" y="725" width="140" height="200" rx="62" fill="#f2d45c" stroke="#333333" stroke-width="28"/><path d="M582 925 V1048 H660" fill="#00acc4" stroke="#333333" stroke-width="28"/><path d="M596 940 L632 940 L640 1030 L596 1030 Z" fill="#00acc4"/><rect x="625" y="522" width="695" height="603" rx="185" fill="#fff" stroke="#333333" stroke-width="28"/><line x1="972" y1="520" x2="972" y2="430" stroke="#333333" stroke-width="28"/><circle cx="972" cy="352" r="40" fill="#f2d45c" stroke="#333333" stroke-width="28"/><rect x="735" y="670" width="475" height="295" rx="105" fill="#333333"/><circle cx="862" cy="816" r="33" fill="#f2d45c"/><circle cx="1077" cy="816" r="33" fill="#f2d45c"/><line x1="650" y1="1045" x2="890" y2="1045" stroke="#333333" stroke-width="22"/><rect x="890" y="1008" width="108" height="66" rx="26" fill="#fff" stroke="#f2d45c" stroke-width="22"/></g>
<clipPath id="cw"><rect x="1200" y="400" width="400" height="307.29999999999995"/></clipPath><g clip-path="url(#cw)"><g transform="translate(1200 410) scale(0.18582)" stroke-linecap="round" stroke-linejoin="round" ><line x1="185" y1="452" x2="272" y2="542" stroke="#f5d04f" stroke-width="32"/><line x1="335" y1="392" x2="353" y2="490" stroke="#f5d04f" stroke-width="32"/><line x1="115" y1="590" x2="215" y2="606" stroke="#f5d04f" stroke-width="32"/><path d="M1430 510 L1370 628 L1490 575 Z" fill="#efd05a" stroke="#333333" stroke-width="36"/><circle cx="1628" cy="382" r="250" fill="#efd05a" stroke="#333333" stroke-width="36"/><path d="M1440 500 L1395 600 L1500 560 Z" fill="#efd05a"/><circle cx="1522" cy="373" r="21" fill="#333333"/><circle cx="1630" cy="373" r="21" fill="#333333"/><circle cx="1740" cy="373" r="21" fill="#333333"/><path d="M655 560 C640 330 780 212 925 212 C1080 212 1205 330 1192 560 L1215 790 C1228 900 1240 1000 1218 1062 C1190 1150 1110 1205 1112 1285 C1040 1260 1010 1200 1040 1140 C1070 1090 1095 1050 1095 1000 L760 940 C740 1000 700 1030 620 1045 L650 790 Z" fill="#b38c65"/><path d="M640 1045 L480 1125 L420 1300 L440 1600 L742 1600 L675 1048 Z" fill="#c8c8c8"/><path d="M1265 1052 L1440 1140 C1488 1165 1497 1215 1497 1270 L1500 1600 L1130 1600 L1160 1215 L1215 1065 Z" fill="#c8c8c8"/><path d="M775 900 L1085 900 L1100 1050 C1000 1075 850 1075 755 1050 L700 1030 C745 1010 770 980 775 900 Z" fill="#fbf0e0"/><path d="M690 1055 C850 1075 1000 1075 1100 1050 L1040 1140 C1010 1200 1040 1260 1112 1285 L1140 1260 L1130 1600 L742 1600 Z" fill="#fff"/><path d="M1135 890 C1150 960 1130 1040 1080 1100 C1030 1160 1020 1230 1112 1285 C1110 1205 1190 1150 1218 1062 C1240 1000 1228 900 1215 790 Z" fill="#b38c65"/><path d="M722 600 C690 560 640 585 650 640 C655 680 690 700 720 690 Z" fill="#fbf0e0" stroke="#333333" stroke-width="36"/><path d="M1132 600 C1165 560 1212 585 1205 640 C1200 680 1165 700 1135 690 Z" fill="#fbf0e0" stroke="#333333" stroke-width="36"/><path d="M712 640 C705 800 800 935 925 935 C1050 935 1145 800 1140 640 C1140 560 1120 520 1090 492 C1040 500 990 490 960 470 C900 480 840 440 825 390 C790 430 740 500 712 640 Z" fill="#fbf0e0"/><path d="M660 545 C640 330 780 212 925 212 C1080 212 1205 330 1190 545" fill="none" stroke="#333333" stroke-width="36"/><path d="M712 655 C712 800 800 935 925 935 C1050 935 1140 800 1140 655" fill="none" stroke="#333333" stroke-width="36"/><path d="M840 375 C850 450 900 495 985 495" fill="none" stroke="#333333" stroke-width="36"/><path d="M950 375 C960 450 1010 490 1090 495 C1110 515 1125 540 1130 560" fill="none" stroke="#333333" stroke-width="36"/><path d="M785 440 C750 470 725 520 715 575" fill="none" stroke="#333333" stroke-width="36"/><path d="M650 790 L620 1040" fill="none" stroke="#333333" stroke-width="36"/><path d="M1215 790 C1228 900 1240 1000 1218 1062 C1190 1150 1100 1200 1112 1285 C1020 1230 1030 1160 1080 1100 C1130 1040 1150 960 1135 890" fill="none" stroke="#333333" stroke-width="36"/><path d="M780 930 C770 980 750 1010 710 1025" fill="none" stroke="#333333" stroke-width="36"/><path d="M1075 905 C1078 940 1085 965 1098 990" fill="none" stroke="#333333" stroke-width="36"/><path d="M755 1050 C850 1075 1000 1075 1090 1052" fill="none" stroke="#333333" stroke-width="36"/><path d="M900 1085 L873 1295 M968 1085 L968 1280" fill="none" stroke="#333333" stroke-width="36"/><circle cx="688" cy="718" r="13" fill="#fff" stroke="#333333" stroke-width="14"/><circle cx="1165" cy="718" r="13" fill="#fff" stroke="#333333" stroke-width="14"/><circle cx="840" cy="577" r="18" fill="#333333"/><circle cx="1012" cy="577" r="18" fill="#333333"/><circle cx="935" cy="703" r="18" fill="#333333"/><path d="M892 783 C910 805 950 805 968 783" fill="none" stroke="#333333" stroke-width="30"/><path d="M640 1052 L485 1128" fill="none" stroke="#333333" stroke-width="36"/><path d="M1265 1055 L1440 1140 C1488 1165 1497 1215 1497 1270 L1500 1600" fill="none" stroke="#333333" stroke-width="36"/><path d="M672 1050 L740 1600" fill="none" stroke="#333333" stroke-width="36"/><path d="M640 1165 L555 1208 L690 1600" fill="none" stroke="#333333" stroke-width="36"/><path d="M1160 1225 L1132 1600" fill="none" stroke="#333333" stroke-width="36"/><path d="M1230 1182 L1300 1228 L1168 1600" fill="none" stroke="#333333" stroke-width="36"/><path d="M165 1455 C250 1490 350 1470 445 1425 L447 1600 L165 1600 Z" fill="#c8c8c8" stroke="#333333" stroke-width="36"/><path d="M352 900 L350 735 C350 690 408 690 410 735 L418 945 L470 985 L480 1120 C460 1200 410 1230 405 1290 L400 1395 C330 1425 250 1425 200 1400 L195 1300 C190 1200 150 1100 162 1040 C168 1000 200 985 230 975 C270 940 310 920 345 900 Z" fill="#fbf0e0" stroke="#333333" stroke-width="36"/><path d="M198 1052 C240 1040 250 1105 288 1110" fill="none" stroke="#333333" stroke-width="36"/><path d="M268 985 C300 1000 300 1080 345 1090" fill="none" stroke="#333333" stroke-width="36"/><path d="M330 930 L362 965" fill="none" stroke="#333333" stroke-width="36"/><path d="M388 1000 C425 1030 405 1060 372 1078 L300 1215" fill="none" stroke="#333333" stroke-width="36"/><path d="M178 1395 C250 1430 350 1420 420 1385" fill="none" stroke="#333333" stroke-width="36"/><path d="M180 1428 C250 1460 350 1445 440 1405" fill="none" stroke="#fff" stroke-width="14"/></g></g>
<clipPath id="cc"><rect x="200" y="1400" width="480" height="306"/></clipPath><g clip-path="url(#cc)"><g transform="translate(200 1400) scale(0.21700)" stroke-linecap="round" stroke-linejoin="round" ><path d="M62 570 L210 640 L245 1000 L95 885 Z M245 1000 L300 1000 M230 880 L270 880" fill="none" stroke="#cfcfcf" stroke-width="12"/><path d="M270 660 L465 745 L520 1225 L315 1080 Z M520 1225 L600 1225" fill="none" stroke="#cfcfcf" stroke-width="12"/><path d="M520 400 C510 470 530 530 590 545 C640 540 670 500 665 450 M545 445 L540 470 L552 480 M560 505 C575 512 590 510 600 505" fill="none" stroke="#cfcfcf" stroke-width="12"/><circle cx="705" cy="440" r="36" fill="none" stroke="#cfcfcf" stroke-width="12"/><path d="M690 380 L700 410 M735 380 L725 405" fill="none" stroke="#cfcfcf" stroke-width="12"/><path d="M510 560 C560 585 650 570 715 530 M570 600 L560 660 L585 640 L600 600 M435 700 C450 640 500 610 560 600 M600 600 L720 545 L745 590 C790 640 810 720 800 830 M480 770 L590 640 M520 840 L700 660 C730 640 770 650 790 680 M690 830 C690 760 700 720 720 690 M480 770 L490 900" fill="none" stroke="#cfcfcf" stroke-width="12"/><path d="M890 380 C870 480 880 570 950 610 C1020 600 1070 560 1075 480 M930 380 C960 420 1000 440 1050 460 M905 520 L900 545 L915 552 M915 590 C935 600 955 598 970 590 M960 490 L972 492" fill="none" stroke="#cfcfcf" stroke-width="12"/><circle cx="1098" cy="522" r="46" fill="none" stroke="#cfcfcf" stroke-width="12"/><circle cx="1098" cy="522" r="24" fill="none" stroke="#cfcfcf" stroke-width="12"/><path d="M1090 380 C1130 440 1160 520 1165 600 C1170 680 1250 720 1245 790 M870 660 C920 690 990 680 1050 640 M940 690 L965 740 L985 690 M850 780 C870 730 900 700 940 690 M985 690 L1100 640 M1100 680 L1010 740 L1030 780 L1150 710 C1200 740 1230 800 1235 880 L1240 1060 M850 780 L880 900 M900 900 L1080 780 M1080 860 L1085 1080 L900 1085 M900 980 L970 1000 L975 1080 M920 1200 L1170 1185" fill="none" stroke="#cfcfcf" stroke-width="12"/><path d="M500 890 L560 890 M520 980 L560 980 M530 1060 L560 1060" fill="none" stroke="#cfcfcf" stroke-width="12"/><path d="M1990 838 L2110 860 C2140 868 2146 892 2140 922 L2060 1410 L1990 1410 Z" fill="#fff" stroke="#333333" stroke-width="14"/><path d="M1755 600 C1800 575 1850 610 1860 680 C1868 715 1862 740 1870 765 L1775 705 C1765 670 1755 640 1755 600 Z" fill="#b38c65" stroke="#333333" stroke-width="14"/><path d="M1500 862 L1545 760 L1770 705 L1955 805 C1980 830 1985 870 1985 900 L2005 1410 L1470 1410 L1385 1250 L1420 1000 Z" fill="#efd05a"/><path d="M1545 640 L1760 640 L1768 712 L1652 876 L1502 866 L1542 760 Z" fill="#fbf0e0"/><path d="M1505 868 L1650 878 L1612 960 L1588 1100 L1565 1285 L1455 1275 L1480 1050 Z" fill="#fff"/><path d="M1770 705 L1955 805 C1980 830 1985 870 1985 900 L2005 1410" fill="none" stroke="#333333" stroke-width="14"/><path d="M1765 712 L1655 870 C1615 940 1590 1050 1580 1130 M1500 870 C1490 950 1485 1000 1488 1040 M1900 820 C1820 900 1790 950 1785 990 L1810 1250 M1580 1290 L1848 1250" fill="none" stroke="#333333" stroke-width="14"/><path d="M1520 770 L1490 1030 M1690 820 L1505 1035" fill="none" stroke="#333333" stroke-width="9"/><rect x="1484" y="1022" width="22" height="55" rx="8" fill="#fff" stroke="#333333" stroke-width="9"/><path d="M1415 1095 L1615 1120 L1600 1245 L1412 1215 Z" fill="#fff" stroke="#333333" stroke-width="14"/><path d="M1455 1230 L1450 1275 M1570 1250 L1565 1285" fill="none" stroke="#333333" stroke-width="14"/><path d="M1485 420 C1510 380 1555 330 1585 285 C1630 330 1700 380 1790 420 L1785 520 C1770 600 1720 690 1640 695 C1560 690 1500 600 1490 520 Z" fill="#fbf0e0"/><path d="M1480 425 C1470 300 1540 195 1650 190 C1760 190 1812 290 1800 425 L1782 420 C1700 380 1630 330 1585 285 C1555 330 1510 380 1480 425 Z" fill="#b38c65" stroke="#333333" stroke-width="14"/><path d="M1492 530 C1505 600 1560 690 1640 695 C1700 692 1745 640 1770 580" fill="none" stroke="#333333" stroke-width="14"/><path d="M1545 690 L1542 760" fill="none" stroke="#333333" stroke-width="14"/><path d="M1452 430 C1440 290 1520 180 1640 177 C1760 180 1840 290 1826 430" fill="none" stroke="#333333" stroke-width="32"/><path d="M1452 430 C1440 290 1520 180 1640 177 C1760 180 1840 290 1826 430" fill="none" stroke="#fff" stroke-width="11"/><rect x="1425" y="425" width="30" height="85" rx="12" fill="#fff" stroke="#333333" stroke-width="14"/><rect x="1808" y="425" width="32" height="85" rx="12" fill="#fff" stroke="#333333" stroke-width="14"/><rect x="1443" y="412" width="38" height="112" rx="17" fill="#adadad" stroke="#333333" stroke-width="14"/><rect x="1778" y="412" width="40" height="112" rx="17" fill="#adadad" stroke="#333333" stroke-width="14"/><path d="M1795 524 C1785 600 1725 652 1665 652" fill="none" stroke="#333333" stroke-width="10"/><rect x="1600" y="635" width="66" height="33" rx="16" fill="#adadad" stroke="#333333" stroke-width="10"/><circle cx="1572" cy="458" r="10" fill="#333333"/><circle cx="1690" cy="458" r="10" fill="#333333"/><circle cx="1632" cy="546" r="9" fill="#333333"/><path d="M1540 415 C1560 405 1585 405 1603 412 M1668 412 C1690 403 1715 405 1733 415 M1642 420 L1625 500 L1640 512" fill="none" stroke="#333333" stroke-width="14"/><path d="M1580 580 C1610 592 1660 590 1692 575 C1680 610 1655 625 1635 625 C1610 625 1590 610 1580 580 Z" fill="#333333" stroke="#333333" stroke-width="8"/><path d="M1600 590 C1625 598 1655 596 1675 588 L1665 602 C1645 608 1620 608 1608 602 Z" fill="#fff"/><path d="M1315 835 L1155 1075 C1125 1125 1150 1205 1235 1228 C1290 1232 1340 1180 1370 1130 L1500 870 L1425 955 C1400 978 1360 975 1340 940 Z" fill="#efd05a" stroke="#333333" stroke-width="14"/><path d="M1330 838 C1372 780 1400 700 1380 620 C1362 560 1390 480 1420 435 L1442 452 C1432 500 1440 540 1452 565 L1482 700 L1548 752 L1502 802 L1425 955 C1400 978 1360 975 1340 940 Z" fill="#fbf0e0" stroke="#333333" stroke-width="14"/><path d="M1422 520 L1396 590 M1446 590 L1470 722 M1525 740 L1425 940" fill="none" stroke="#333333" stroke-width="14"/><path d="M920 1278 L1110 1272 L1222 1332 L1205 1410 L935 1410 Z" fill="#e6e6e6" stroke="#333333" stroke-width="14"/><path d="M930 1330 L1030 1320 L1200 1410 L935 1410 Z" fill="#c0c0c0" stroke="#333333" stroke-width="14"/><path d="M550 775 L860 905 L932 1410 L800 1410 L610 1340 Z" fill="#e6e6e6" stroke="#333333" stroke-width="14"/><path d="M610 1340 L615 1370 L700 1410 L800 1410 Z" fill="#fff" stroke="#333333" stroke-width="14"/><ellipse cx="705" cy="1130" rx="17" ry="30" transform="rotate(-12 705 1130)" fill="#fff" stroke="#333333" stroke-width="13"/><path d="M1195 1360 C1250 1290 1330 1262 1400 1275 L1580 1290 C1600 1330 1600 1370 1585 1410 L1215 1410 Z" fill="#fbf0e0" stroke="#333333" stroke-width="14"/><path d="M1215 1375 C1260 1330 1300 1310 1335 1305 M1240 1395 C1290 1350 1330 1335 1370 1335 M1300 1405 C1330 1380 1360 1370 1390 1370" fill="none" stroke="#333333" stroke-width="14"/></g></g>
<g transform="translate(200 1400) scale(0.21700)" stroke-linecap="round" stroke-linejoin="round" ><path d="M1100 366 L1238 450 L1205 350 Z" fill="#efd05a" stroke="#333333" stroke-width="12"/><rect x="135" y="72" width="1190" height="300" rx="150.0" fill="#efd05a" stroke="#333333" stroke-width="12"/><path d="M1100 354 L1218.8 428.4 L1193 338 Z" fill="#efd05a"/></g>
<clipPath id="cs"><rect x="1040" y="1400" width="560" height="306.3"/></clipPath><g clip-path="url(#cs)"><g transform="translate(1040 1400) scale(0.25316)" stroke-linecap="round" stroke-linejoin="round" ><path d="M232 1000 L225 490 C225 400 300 330 430 322 L740 322 L735 830 L735 1000 Z" fill="#e6e6e6" stroke="#333333" stroke-width="13"/><path d="M1762 1215 L1755 580 C1760 480 1820 420 1900 390 L2095 305 L2095 1045 L1850 1215 Z" fill="#e6e6e6" stroke="#333333" stroke-width="13"/><path d="M1522 506 L1670 530 C1695 535 1702 550 1700 580 L1690 935 L1745 940 L1745 1000 L1560 1000 Z" fill="#fff" stroke="none"/><path d="M1522 506 L1670 530 C1695 535 1702 550 1700 580 L1690 935 M1660 935 L1745 940" fill="none" stroke="#333333" stroke-width="13"/><path d="M660 855 L720 830 L930 860 L1660 940 L1750 1000 L1750 1215 L880 1215 L720 1100 Z" fill="#fff"/><path d="M660 855 L720 830 L925 858 M880 1185 L1170 1212" fill="none" stroke="#333333" stroke-width="13"/><path d="M925 850 L1050 600 C1065 560 1100 535 1160 520 L1210 505 L1395 480 L1440 520 L1540 560 C1580 580 1600 610 1610 650 L1660 900 C1665 940 1640 965 1600 975 L1480 1000 L1250 940 L1150 900 Z" fill="#f6d76c" stroke="#333333" stroke-width="13"/><path d="M1215 540 L1390 500 L1370 740 L1200 745 L1185 640 Z" fill="#fff"/><path d="M1235 625 C1280 640 1330 640 1365 625 L1300 700 Z" fill="#fff" stroke="#333333" stroke-width="13"/><path d="M1200 715 L1335 730 M1210 560 L1290 700 M1390 530 L1300 700" fill="none" stroke="#333333" stroke-width="13"/><path d="M1210 510 L1130 600 L1165 590 L1110 640 L1145 790 M1060 705 L1080 820 M1395 480 L1440 600 L1400 590 L1455 610 L1410 760 M1375 640 L1370 745 M1540 580 C1500 640 1485 720 1500 790 M1500 870 C1540 875 1560 885 1575 890 M1460 900 C1490 930 1500 960 1495 985" fill="none" stroke="#333333" stroke-width="13"/><path d="M1210 505 L1240 555 L1390 500 L1385 440 Z" fill="#fbf0e0"/><path d="M1180 330 C1170 400 1185 480 1230 510 C1290 530 1350 490 1380 440 L1420 440 C1460 400 1450 340 1410 330 L1330 240 L1240 215 C1200 240 1185 280 1180 330 Z" fill="#fbf0e0"/><path d="M1232 185 C1290 150 1380 150 1430 210 C1480 270 1480 380 1440 430 C1430 445 1415 445 1400 440 C1440 410 1440 350 1400 335 L1378 345 L1305 245 L1345 300 L1240 230 C1225 215 1225 195 1232 185 Z" fill="#b38c65" stroke="#333333" stroke-width="13"/><path d="M1182 320 C1170 400 1185 480 1230 510 C1290 530 1350 490 1380 445 M1215 215 C1190 240 1180 280 1180 300 M1240 530 L1245 555" fill="none" stroke="#333333" stroke-width="13"/><circle cx="1392" cy="425" r="13" fill="#fff" stroke="#333333" stroke-width="10"/><circle cx="1218" cy="338" r="10" fill="#333333"/><circle cx="1298" cy="342" r="10" fill="#333333"/><circle cx="1245" cy="400" r="10" fill="#333333"/><path d="M1218 432 C1245 440 1275 435 1295 425 C1285 460 1265 470 1250 470 C1235 470 1225 455 1218 432 Z" fill="#333333" stroke="#333333" stroke-width="8"/><path d="M985 915 L1235 752 L1522 812 L1335 925 L1200 960 L1090 945 Z" fill="#80c25f" stroke="#333333" stroke-width="13"/><path d="M752 855 L1070 960" fill="none" stroke="#333333" stroke-width="13"/><path d="M880 870 C930 860 970 870 985 895 L1000 940 C960 975 920 990 895 975 C880 950 885 920 880 900 Z" fill="#fbf0e0" stroke="#333333" stroke-width="13"/><path d="M1085 965 C1120 940 1160 935 1190 900 C1230 890 1270 905 1290 935 L1330 945 L1345 1010 C1280 1030 1200 1045 1150 1040 C1110 1020 1095 990 1085 965 Z" fill="#fbf0e0" stroke="#333333" stroke-width="13"/><path d="M1090 970 C1130 975 1170 965 1200 945 M1130 1005 C1150 1005 1170 1000 1185 990" fill="none" stroke="#333333" stroke-width="13"/><rect x="1322" y="940" width="40" height="75" rx="10" fill="#fff" transform="rotate(-8 1342 978)" stroke="#333333" stroke-width="13"/><path d="M1345 1010 L1480 1000" fill="none" stroke="#333333" stroke-width="13"/><path d="M1080 1155 L1335 1030 L1665 1040 L1665 1085 L1410 1205 L1085 1170 Z" fill="#fff" stroke="#333333" stroke-width="13"/><path d="M1080 1155 L1335 1030 L1665 1040 L1420 1165 Z" fill="#80c25f" stroke="#333333" stroke-width="13"/><path d="M1160 1140 L1400 1150 L1620 1060" fill="none" stroke="#333333" stroke-width="13"/><path d="M262 1000 L285 900 C270 850 270 800 300 770 L360 760 L370 735 L560 810 C640 850 680 920 700 1000 L745 1180 L830 1130 C870 1120 890 1150 885 1190 L870 1215 L600 1215 L560 1010 Z" fill="#80c25f" stroke="#333333" stroke-width="13"/><path d="M290 780 C330 860 400 890 470 860 C510 840 540 830 560 830 M380 770 C420 775 460 790 500 805 M575 985 C600 960 620 940 640 925 M590 1150 L610 1215 M700 1000 L745 1180" fill="none" stroke="#333333" stroke-width="13"/><path d="M700 1000 C740 950 790 930 830 945 C860 960 870 980 865 995 L850 1010 C890 1030 910 1060 905 1095 C900 1120 880 1135 860 1130 L830 1130 L745 1180 Z" fill="#fbf0e0" stroke="#333333" stroke-width="13"/><path d="M760 975 C790 965 820 970 845 985 M755 1030 C790 1010 820 1010 850 1012 M790 1040 C800 1020 820 1010 840 1012" fill="none" stroke="#333333" stroke-width="13"/><path d="M430 700 L410 745 L560 810 L575 770 L520 640 Z" fill="#fbf0e0" stroke="#333333" stroke-width="13"/><path d="M520 600 C560 560 610 540 640 545 L650 600 L685 640 L660 665 L655 720 C650 760 610 780 570 770 C530 750 500 700 520 600 Z" fill="#fbf0e0" stroke="#333333" stroke-width="13"/><path d="M365 590 C340 500 420 425 510 432 C570 435 620 470 645 500 L640 548 C600 560 570 580 545 600 C520 590 500 620 520 660 L470 690 L430 700 C395 670 375 630 365 590 Z" fill="#b38c65" stroke="#333333" stroke-width="13"/><path d="M555 500 L545 600 M610 500 L560 580 M520 660 C525 665 535 668 540 665" fill="none" stroke="#333333" stroke-width="13"/><circle cx="622" cy="588" r="9" fill="#333333"/><path d="M615 690 C630 695 640 693 648 688" fill="none" stroke="#333333" stroke-width="13"/><path d="M170 1215 L165 992 C165 962 185 950 212 955 L520 1000 C545 1005 550 1020 550 1050 L552 1215 Z" fill="#fff" stroke="#333333" stroke-width="13"/></g></g>
<g transform="translate(1040 1400) scale(0.25316)" stroke-linecap="round" stroke-linejoin="round" ><path d="M890 312 L1000 385 L962 300 Z" fill="#efd05a" stroke="#333333" stroke-width="13"/><rect x="58" y="62" width="1017" height="256" rx="128.0" fill="#efd05a" stroke="#333333" stroke-width="13"/><path d="M890 299 L979.2 361.6 L949 287 Z" fill="#efd05a"/></g>
<g transform="translate(2020 1490) scale(0.22188)" stroke-linecap="round" stroke-linejoin="round" ><path d="M385 672 C330 650 300 600 310 540 C330 420 350 300 400 220 C450 130 560 90 640 110 C720 120 790 170 820 260 C850 350 870 450 885 550 C890 600 870 640 840 662 L440 682 Z" fill="#b38c65" stroke="#333333" stroke-width="22"/><path d="M465 690 L690 720 L730 900 L600 1085 L560 1050 L360 865 L440 797 L465 800 Z" fill="#fbf0e0"/><path d="M435 797 L270 852 C160 880 95 940 95 1010 L105 1450 C110 1530 150 1585 230 1590 C330 1590 430 1560 520 1530 L765 1470 C800 1520 830 1555 880 1570 C950 1590 1025 1540 1030 1450 L1035 1020 C1035 950 1000 905 940 880 L790 832 L700 960 L740 1052 L610 1100 L560 1050 L360 868 Z" fill="#efd05a"/><path d="M435 797 L300 845 M262 855 C160 880 95 940 95 1010 L105 1450 C110 1530 150 1585 230 1590 C330 1590 430 1560 520 1530 L765 1470 C800 1520 830 1555 880 1570 C950 1590 1025 1540 1030 1450 L1035 1020 C1035 950 1000 905 940 880 L790 832" fill="none" stroke="#333333" stroke-width="22"/><path d="M485 1385 L645 1372 L692 1342 L765 1470 L520 1530 C490 1500 470 1440 485 1385 Z" fill="#fbf0e0"/><path d="M485 1385 C470 1440 490 1500 517 1530" fill="none" stroke="#333333" stroke-width="22"/><path d="M250 1075 C290 1130 300 1200 275 1280 C268 1310 278 1340 290 1355 M275 1380 L640 1370 C660 1370 680 1355 690 1340 M360 870 L560 1050 M610 1100 L770 1470 M740 1052 L950 1335 M612 1100 L740 1052 M465 705 L465 800" fill="none" stroke="#333333" stroke-width="22"/><path d="M430 360 L430 600 C440 690 520 745 600 745 C680 745 760 690 790 600 L790 420 C780 350 750 280 700 235 C680 300 600 360 500 375 C470 370 445 365 430 360 Z" fill="#fbf0e0"/><path d="M432 525 C430 660 520 745 600 745 C640 745 660 735 680 722" fill="none" stroke="#333333" stroke-width="22"/><path d="M432 420 C390 400 360 430 370 480 C375 510 400 530 430 522" fill="#fbf0e0" stroke="#333333" stroke-width="22"/><path d="M782 435 C812 420 838 450 826 492 C820 520 800 532 790 527" fill="#fbf0e0" stroke="#333333" stroke-width="22"/><circle cx="388" cy="560" r="20" fill="#fff" stroke="#333333" stroke-width="22"/><path d="M385 612 C385 640 400 665 430 680" fill="none" stroke="#333333" stroke-width="22"/><path d="M405 360 C470 350 520 320 550 280 M495 375 C580 360 650 310 680 245 M705 235 C750 290 770 350 775 410 M645 377 C670 360 700 365 715 387" fill="none" stroke="#333333" stroke-width="22"/><circle cx="522" cy="420" r="12" fill="#333333"/><circle cx="675" cy="420" r="12" fill="#333333"/><ellipse cx="600" cy="522" rx="15" ry="10" fill="#333333"/><path d="M565 615 C590 595 615 595 640 612" fill="none" stroke="#333333" stroke-width="22"/><path d="M612 1095 C580 1020 540 950 550 880 C560 820 640 800 680 720 C690 650 700 590 720 575 C740 560 750 570 757 588 C765 555 790 545 802 572 C815 555 835 565 840 590 C850 650 855 700 830 760 C800 830 720 880 700 940 C700 960 720 985 740 1050 Z" fill="#fbf0e0" stroke="none"/><path d="M612 1095 C580 1020 540 950 550 880 C560 820 640 800 680 720 C690 650 700 590 720 575 C740 560 750 570 757 588 C765 555 790 545 802 572 C815 555 835 565 840 590 C850 650 855 700 830 760 C800 830 720 880 700 940 C700 955 710 975 725 995" fill="none" stroke="#333333" stroke-width="22"/><path d="M722 592 L735 705 M765 588 L785 690 M810 588 L822 668 M800 878 C770 910 740 950 722 975" fill="none" stroke="#333333" stroke-width="22"/></g>
<g transform="translate(1400 2320) scale(0.15587)" stroke-linecap="round" stroke-linejoin="round" ><path d="M470 880 L480 1040 L430 1415 L560 1400 L600 1060 L620 880 Z" fill="#fff" stroke="#fff" stroke-width="34.1"/><path d="M480 900 L475 1040 M620 885 L600 1060 M560 1260 L525 1455" fill="none" stroke="#fff" stroke-width="46.0"/><path d="M315 1442 C328 1429 366 1418 400 1418 C434 1418 445 1430 470 1440 C495 1450 506 1451 515 1465 C524 1479 533 1498 512 1505 C491 1512 458 1501 420 1495 C382 1489 363 1490 340 1478 C317 1466 302 1455 315 1442 Z" fill="#fff" stroke="#fff" stroke-width="47.0"/><path d="M655 1395 C675 1380 688 1394 720 1400 C752 1406 785 1402 800 1420 C815 1438 799 1462 790 1480 C781 1498 782 1499 760 1500 C738 1501 719 1492 690 1485 C661 1478 638 1490 630 1470 C622 1450 635 1410 655 1395 Z" fill="#fff" stroke="#fff" stroke-width="47.0"/><path d="M790 925 C788 945 839 996 850 1040 C861 1084 811 1106 840 1125 C869 1144 936 1133 980 1125 C1024 1117 1049 1128 1040 1090 C1031 1052 971 979 940 950 C909 921 918 960 900 960 C882 960 884 958 860 950 C836 942 792 905 790 925 Z" fill="#fff" stroke="#fff" stroke-width="46.0"/><path d="M700 745 C720 749 725 770 745 800 C765 830 780 852 790 880 C800 908 803 921 790 925 C777 929 754 914 730 900 C706 886 698 875 680 860 C662 845 656 848 650 830 C644 812 644 799 655 780 C666 761 680 741 700 745 Z" fill="#fff" stroke="#fff" stroke-width="46.0"/><path d="M770 780 C777 752 772 748 790 735 C808 722 824 716 850 722 C876 728 888 738 910 760 C932 782 939 789 950 820 C961 851 958 872 958 900 C958 928 961 931 950 945 C939 959 926 963 910 962 C894 961 885 953 875 940 C865 927 875 907 865 905 C855 903 846 921 830 930 C814 939 805 947 790 948 C775 949 769 954 762 935 C755 916 756 894 758 860 C760 826 763 808 770 780 Z" fill="#fff" stroke="#fff" stroke-width="46.0"/><path d="M790 800 C801 777 815 778 835 785 C855 792 871 805 880 830 C889 855 885 877 878 900 C871 923 865 927 850 935 C835 943 824 945 810 935 C796 925 789 920 785 890 C781 860 779 823 790 800 Z" fill="#fff" stroke="#fff" stroke-width="45.0"/><path d="M805 872 C820 882 845 882 860 870 C850 902 820 902 805 872 Z" fill="#fff" stroke="#fff" stroke-width="43.0"/><path d="M840 1125 C875 1100 942 1113 980 1125 C1018 1137 1003 1155 1012 1180 C1021 1205 1027 1214 1022 1240 C1017 1266 1012 1282 990 1300 C968 1318 951 1315 920 1322 C889 1329 871 1339 850 1332 C829 1325 831 1310 825 1290 C819 1270 819 1276 822 1240 C825 1204 805 1150 840 1125 Z" fill="#fff" stroke="#fff" stroke-width="46.0"/><path d="M870 1335 C874 1318 925 1313 950 1325 C975 1337 989 1374 985 1390 C981 1406 955 1412 930 1400 C905 1388 866 1352 870 1335 Z" fill="#fff" stroke="#fff" stroke-width="45.0"/><path d="M955 1330 C967 1316 999 1311 1015 1318 C1031 1325 1027 1342 1028 1360 C1029 1378 1029 1390 1018 1402 C1007 1414 991 1420 978 1415 C965 1410 965 1399 960 1380 C955 1361 943 1344 955 1330 Z" fill="#fff" stroke="#fff" stroke-width="46.0"/><path d="M940 950 L1040 1090 M900 1000 L960 1120 M850 1040 L880 1130 M700 1100 L760 990 M770 1100 L820 990" fill="none" stroke="#fff" stroke-width="45.0"/><path d="M655 790 C664 772 672 762 690 760 C708 758 723 765 735 780 C747 795 748 811 745 830 C742 849 734 856 720 865 C706 874 695 876 680 870 C665 864 656 858 650 840 C644 822 646 808 655 790 Z" fill="#fff" stroke="#fff" stroke-width="45.0"/><path d="M672 835 L715 872 M690 828 L732 862 M708 820 L745 850" fill="none" stroke="#fff" stroke-width="43.0"/><path d="M1075 1070 C1100 1040 1086 1047 1120 1040 C1154 1033 1196 1027 1230 1040 C1264 1053 1254 1109 1275 1100 C1296 1091 1317 1033 1325 1000 C1333 967 1307 965 1310 950 C1313 935 1328 928 1340 930 C1352 932 1367 942 1365 960 C1363 978 1348 977 1330 1010 C1312 1043 1296 1059 1285 1110 C1274 1161 1290 1192 1280 1240 C1270 1288 1258 1279 1240 1330 C1222 1381 1226 1444 1200 1470 C1174 1496 1131 1481 1120 1450 C1109 1419 1148 1363 1150 1330 C1152 1297 1148 1289 1130 1300 C1112 1311 1086 1380 1070 1380 C1054 1380 1058 1348 1058 1300 C1058 1252 1078 1180 1072 1160 C1066 1140 1044 1207 1030 1210 C1016 1213 998 1206 1008 1175 C1018 1144 1050 1100 1075 1070 Z" fill="#fff" stroke="#fff" stroke-width="46.0"/><path d="M1120 1040 C1153 1027 1196 1027 1230 1040 C1264 1053 1263 1069 1275 1100 C1287 1131 1284 1149 1285 1180 C1286 1211 1290 1207 1280 1240 C1270 1273 1254 1293 1240 1330 C1226 1367 1224 1379 1215 1410 C1206 1441 1221 1461 1200 1470 C1179 1479 1133 1470 1120 1450 C1107 1430 1133 1406 1140 1380 C1147 1354 1152 1348 1150 1330 C1148 1312 1142 1296 1130 1300 C1118 1304 1108 1332 1095 1350 C1082 1368 1078 1391 1070 1380 C1062 1369 1058 1344 1058 1300 C1058 1256 1066 1224 1070 1180 C1074 1136 1067 1131 1078 1100 C1089 1069 1087 1053 1120 1040 Z" fill="#fff" stroke="#fff" stroke-width="46.0"/><path d="M1130 1045 L1210 1045 L1205 1115 L1135 1115 Z" fill="#fff" stroke="#fff" stroke-width="45.0"/><path d="M1105 905 C1111 884 1111 874 1130 860 C1149 846 1164 840 1190 840 C1216 840 1229 845 1250 860 C1271 875 1276 886 1285 910 C1294 934 1294 947 1290 970 C1286 993 1282 1000 1265 1015 C1248 1030 1238 1034 1215 1038 C1192 1042 1181 1042 1160 1035 C1139 1028 1133 1023 1120 1005 C1107 987 1105 977 1102 955 C1099 933 1099 926 1105 905 Z" fill="#fff" stroke="#fff" stroke-width="46.0"/><path d="M1108 900 C1105 894 1109 872 1125 855 C1141 838 1152 828 1180 822 C1208 816 1231 833 1250 830 C1269 827 1258 804 1265 808 C1272 812 1274 833 1282 850 C1290 867 1296 868 1300 885 C1304 902 1302 908 1298 925 C1294 942 1289 966 1280 962 C1271 958 1273 925 1255 905 C1237 885 1225 878 1200 872 C1175 866 1160 874 1140 880 C1120 886 1111 906 1108 900 Z" fill="#fff" stroke="#fff" stroke-width="46.0"/><path d="M1150 992 C1160 998 1170 998 1180 992" fill="none" stroke="#fff" stroke-width="43.0"/><path d="M1082 1462 C1093 1455 1116 1464 1140 1468 C1164 1472 1179 1469 1192 1482 C1205 1495 1207 1516 1198 1525 C1189 1534 1173 1527 1150 1522 C1127 1517 1107 1515 1092 1502 C1077 1489 1071 1469 1082 1462 Z" fill="#fff" stroke="#fff" stroke-width="46.0"/><path d="M1310 915 C1313 901 1322 889 1335 885 C1348 881 1359 885 1368 895 C1377 905 1381 916 1378 930 C1375 944 1367 954 1355 958 C1343 962 1332 959 1322 950 C1312 941 1307 929 1310 915 Z" fill="#fff" stroke="#fff" stroke-width="45.0"/><path d="M1012 1172 C1018 1163 1024 1158 1035 1160 C1046 1162 1056 1169 1060 1180 C1064 1191 1062 1203 1055 1212 C1048 1221 1040 1225 1030 1222 C1020 1219 1014 1211 1010 1200 C1006 1189 1006 1181 1012 1172 Z" fill="#fff" stroke="#fff" stroke-width="44.0"/><path d="M1450 480 C1472 457 1483 459 1520 455 C1557 451 1583 450 1620 460 C1657 470 1668 478 1690 500 C1712 522 1711 529 1722 560 C1733 591 1745 592 1740 640 C1735 688 1691 710 1700 780 C1709 850 1745 879 1780 960 C1815 1041 1864 1104 1860 1150 C1856 1196 1795 1201 1760 1170 C1725 1139 1724 1069 1700 1010 C1676 951 1681 898 1650 900 C1619 902 1597 967 1560 1020 C1523 1073 1515 1109 1480 1140 C1445 1171 1415 1191 1400 1160 C1385 1129 1406 1057 1410 1000 C1414 943 1426 910 1420 900 C1414 890 1404 944 1385 955 C1366 966 1352 962 1335 950 C1318 938 1309 924 1310 900 C1311 876 1325 884 1340 840 C1355 796 1362 762 1380 700 C1398 638 1405 608 1420 560 C1435 512 1428 503 1450 480 Z" fill="#fff" stroke="#fff" stroke-width="46.0"/><path d="M1480 850 C1513 826 1605 832 1650 850 C1695 868 1674 897 1685 930 C1696 963 1701 963 1700 1000 C1699 1037 1689 1060 1680 1100 C1671 1140 1651 1143 1660 1180 C1669 1217 1696 1235 1720 1270 C1744 1305 1770 1314 1770 1340 C1770 1366 1744 1397 1720 1390 C1696 1383 1686 1345 1660 1310 C1634 1275 1624 1226 1600 1230 C1576 1234 1572 1288 1550 1330 C1528 1372 1526 1407 1500 1420 C1474 1433 1434 1430 1430 1390 C1426 1350 1460 1304 1480 1240 C1500 1176 1516 1162 1520 1100 C1524 1038 1509 1015 1500 960 C1491 905 1447 874 1480 850 Z" fill="#fff" stroke="#fff" stroke-width="46.0"/><path d="M1482 265 C1488 240 1483 230 1500 215 C1517 200 1534 195 1560 195 C1586 195 1599 201 1620 215 C1641 229 1644 237 1655 260 C1666 283 1671 297 1668 320 C1665 343 1653 347 1640 365 C1627 383 1628 384 1610 400 C1592 416 1580 432 1560 440 C1540 448 1535 444 1520 435 C1505 426 1500 423 1490 400 C1480 377 1477 360 1475 330 C1473 300 1476 290 1482 265 Z" fill="#fff" stroke="#fff" stroke-width="46.0"/><path d="M1482 262 C1482 253 1491 225 1510 210 C1529 195 1544 190 1570 192 C1596 194 1609 201 1630 220 C1651 239 1657 256 1665 280 C1673 304 1670 312 1665 330 C1660 348 1654 362 1640 362 C1626 362 1619 345 1600 330 C1581 315 1574 313 1555 295 C1536 277 1528 257 1512 250 C1496 243 1482 271 1482 262 Z" fill="#fff" stroke="#fff" stroke-width="46.0"/><path d="M1620 380 C1624 368 1654 375 1675 385 C1696 395 1705 406 1715 425 C1725 444 1712 456 1722 470 C1732 484 1748 478 1760 490 C1772 502 1777 511 1775 525 C1773 539 1765 550 1752 552 C1739 554 1729 546 1715 535 C1701 524 1703 521 1690 500 C1677 479 1670 466 1655 440 C1640 414 1616 392 1620 380 Z" fill="#fff" stroke="#fff" stroke-width="46.0"/><path d="M1515 385 C1525 392 1540 390 1550 382 C1545 406 1525 408 1515 385 Z" fill="#fff" stroke="#fff" stroke-width="43.0"/><path d="M1560 625 L1740 545 L1870 532 L1890 740 L1660 830 Z" fill="#fff" stroke="#fff" stroke-width="46.0"/><path d="M1650 800 L1890 737 L1890 765 L1660 836 Z" fill="#fff" stroke="#fff" stroke-width="46.0"/><path d="M1600 470 L1650 540 L1620 600 M1760 545 L1790 760 M1450 480 L1500 560 L1470 850 M1500 500 C1540 520 1580 510 1600 490 M1650 900 L1760 1170 M1420 900 L1400 1160 M1560 880 L1520 1100" fill="none" stroke="#fff" stroke-width="45.0"/><path d="M1585 545 C1596 534 1621 540 1635 552 C1649 564 1648 580 1650 600 C1652 620 1656 634 1645 645 C1634 656 1613 660 1600 650 C1587 640 1588 623 1585 600 C1582 577 1574 556 1585 545 Z" fill="#fff" stroke="#fff" stroke-width="45.0"/><path d="M1312 1440 C1319 1433 1338 1439 1360 1442 C1382 1445 1381 1441 1410 1452 C1439 1463 1476 1471 1490 1490 C1504 1509 1490 1530 1475 1538 C1460 1546 1443 1535 1420 1528 C1397 1521 1390 1520 1370 1508 C1350 1496 1343 1490 1330 1475 C1317 1460 1305 1447 1312 1440 Z" fill="#fff" stroke="#fff" stroke-width="46.0"/><path d="M1700 1480 C1704 1460 1725 1452 1745 1430 C1765 1408 1773 1384 1790 1380 C1807 1376 1818 1394 1822 1410 C1826 1426 1817 1437 1810 1455 C1803 1473 1809 1478 1790 1492 C1771 1506 1745 1523 1725 1520 C1705 1517 1696 1500 1700 1480 Z" fill="#fff" stroke="#fff" stroke-width="46.0"/><path d="M1430 1390 C1448 1383 1487 1402 1500 1420 C1513 1438 1508 1463 1490 1470 C1472 1477 1433 1468 1420 1450 C1407 1432 1412 1397 1430 1390 Z" fill="#fff" stroke="#fff" stroke-width="45.0"/></g><g transform="translate(1410 2325) scale(0.07794)" stroke-linecap="round" stroke-linejoin="round" ><path d="M770 575 C700 590 670 610 640 650 L530 850 L395 780 L300 880 L300 915 L470 1090 C520 1140 580 1150 620 1110 L690 1030 L700 1668 L1390 1668 L1440 1300 C1470 1200 1480 1100 1440 1000 L1340 700 C1320 620 1280 560 1170 545 L1090 520 L1060 560 L850 620 Z" fill="#fff" stroke="#fff" stroke-width="56.0"/><path d="M165 500 C175 485 195 490 205 505 L330 660 C350 700 350 740 385 780 L300 872 C250 830 200 800 170 770 C120 740 110 700 140 670 C170 650 200 640 215 622 L160 520 Z" fill="#fff" stroke="#fff" stroke-width="56.0"/><path d="M150 700 C170 690 190 700 200 720 M175 660 C200 655 220 670 228 695 M235 640 C265 650 275 690 262 720 M300 872 C340 850 370 820 392 790" fill="none" stroke="#fff" stroke-width="54.0"/><path d="M850 560 L850 625 C900 660 980 660 1025 630 L1040 540 Z" fill="#fff" stroke="#fff" stroke-width="56.0"/><path d="M770 330 C770 470 800 590 910 600 C1000 595 1050 520 1062 430 L1075 320 C1110 300 1130 340 1115 380 C1105 410 1085 420 1068 415 L1090 300 L830 215 Z" fill="#fff" stroke="#fff" stroke-width="56.0"/><path d="M760 320 C740 180 820 85 935 80 C1050 80 1120 180 1105 300 C1085 320 1060 330 1040 325 C980 310 930 270 910 225 C925 270 905 300 920 310 C890 300 850 270 830 215 C810 250 790 290 760 320 Z" fill="#fff" stroke="#fff" stroke-width="56.0"/><path d="M715 595 L760 580 L1035 1005 L992 1032 Z" fill="#fff" stroke="#fff" stroke-width="54.0"/><path d="M990 1030 C1000 1000 1040 990 1070 1000 L1272 1150 L1252 1312 C1200 1310 1150 1280 1100 1240 C1030 1180 970 1100 990 1030 Z" fill="#fff" stroke="#fff" stroke-width="56.0"/><path d="M1040 1075 L1225 1222" fill="none" stroke="#fff" stroke-width="54.0"/><path d="M695 790 L700 1668 M775 800 L780 1668 M1060 560 L1020 950 M1020 1230 L1060 1668 M1090 520 L1180 620 L1080 680 M1190 820 L1290 1080 C1310 1150 1290 1250 1250 1390 M390 778 L545 928 M640 650 L530 850 M840 1475 C900 1470 960 1440 1010 1405 M800 1530 C880 1570 960 1580 1030 1575" fill="none" stroke="#fff" stroke-width="54.0"/></g><g transform="translate(1400 2320) scale(0.15587)" stroke-linecap="round" stroke-linejoin="round" ><path d="M470 880 L480 1040 L430 1415 L560 1400 L600 1060 L620 880 Z" fill="#fff" stroke="#5f5f5f" stroke-width="0.1"/><path d="M480 900 L475 1040 M620 885 L600 1060 M560 1260 L525 1455" fill="none" stroke="#5f5f5f" stroke-width="12.0"/><path d="M315 1442 C328 1429 366 1418 400 1418 C434 1418 445 1430 470 1440 C495 1450 506 1451 515 1465 C524 1479 533 1498 512 1505 C491 1512 458 1501 420 1495 C382 1489 363 1490 340 1478 C317 1466 302 1455 315 1442 Z" fill="#f7d768" stroke="#5f5f5f" stroke-width="13.0"/><path d="M655 1395 C675 1380 688 1394 720 1400 C752 1406 785 1402 800 1420 C815 1438 799 1462 790 1480 C781 1498 782 1499 760 1500 C738 1501 719 1492 690 1485 C661 1478 638 1490 630 1470 C622 1450 635 1410 655 1395 Z" fill="#f7d768" stroke="#5f5f5f" stroke-width="13.0"/><path d="M790 925 C788 945 839 996 850 1040 C861 1084 811 1106 840 1125 C869 1144 936 1133 980 1125 C1024 1117 1049 1128 1040 1090 C1031 1052 971 979 940 950 C909 921 918 960 900 960 C882 960 884 958 860 950 C836 942 792 905 790 925 Z" fill="#fff" stroke="#5f5f5f" stroke-width="12.0"/><path d="M700 745 C720 749 725 770 745 800 C765 830 780 852 790 880 C800 908 803 921 790 925 C777 929 754 914 730 900 C706 886 698 875 680 860 C662 845 656 848 650 830 C644 812 644 799 655 780 C666 761 680 741 700 745 Z" fill="#fff" stroke="#5f5f5f" stroke-width="12.0"/><path d="M770 780 C777 752 772 748 790 735 C808 722 824 716 850 722 C876 728 888 738 910 760 C932 782 939 789 950 820 C961 851 958 872 958 900 C958 928 961 931 950 945 C939 959 926 963 910 962 C894 961 885 953 875 940 C865 927 875 907 865 905 C855 903 846 921 830 930 C814 939 805 947 790 948 C775 949 769 954 762 935 C755 916 756 894 758 860 C760 826 763 808 770 780 Z" fill="#f7d768" stroke="#5f5f5f" stroke-width="12.0"/><path d="M790 800 C801 777 815 778 835 785 C855 792 871 805 880 830 C889 855 885 877 878 900 C871 923 865 927 850 935 C835 943 824 945 810 935 C796 925 789 920 785 890 C781 860 779 823 790 800 Z" fill="#fff" stroke="#5f5f5f" stroke-width="11.0"/><circle cx="810" cy="832" r="6" fill="#5f5f5f"/><circle cx="852" cy="830" r="6" fill="#5f5f5f"/><path d="M805 872 C820 882 845 882 860 870 C850 902 820 902 805 872 Z" fill="#f7d768" stroke="#5f5f5f" stroke-width="9.0"/><path d="M840 1125 C875 1100 942 1113 980 1125 C1018 1137 1003 1155 1012 1180 C1021 1205 1027 1214 1022 1240 C1017 1266 1012 1282 990 1300 C968 1318 951 1315 920 1322 C889 1329 871 1339 850 1332 C829 1325 831 1310 825 1290 C819 1270 819 1276 822 1240 C825 1204 805 1150 840 1125 Z" fill="#f7d768" stroke="#5f5f5f" stroke-width="12.0"/><path d="M870 1335 C874 1318 925 1313 950 1325 C975 1337 989 1374 985 1390 C981 1406 955 1412 930 1400 C905 1388 866 1352 870 1335 Z" fill="#fff" stroke="#5f5f5f" stroke-width="11.0"/><path d="M955 1330 C967 1316 999 1311 1015 1318 C1031 1325 1027 1342 1028 1360 C1029 1378 1029 1390 1018 1402 C1007 1414 991 1420 978 1415 C965 1410 965 1399 960 1380 C955 1361 943 1344 955 1330 Z" fill="#f7d768" stroke="#5f5f5f" stroke-width="12.0"/><path d="M940 950 L1040 1090 M900 1000 L960 1120 M850 1040 L880 1130 M700 1100 L760 990 M770 1100 L820 990" fill="none" stroke="#5f5f5f" stroke-width="11.0"/><path d="M655 790 C664 772 672 762 690 760 C708 758 723 765 735 780 C747 795 748 811 745 830 C742 849 734 856 720 865 C706 874 695 876 680 870 C665 864 656 858 650 840 C644 822 646 808 655 790 Z" fill="#fff" stroke="#5f5f5f" stroke-width="11.0"/><path d="M672 835 L715 872 M690 828 L732 862 M708 820 L745 850" fill="none" stroke="#5f5f5f" stroke-width="9.0"/><path d="M1075 1070 C1100 1040 1086 1047 1120 1040 C1154 1033 1196 1027 1230 1040 C1264 1053 1254 1109 1275 1100 C1296 1091 1317 1033 1325 1000 C1333 967 1307 965 1310 950 C1313 935 1328 928 1340 930 C1352 932 1367 942 1365 960 C1363 978 1348 977 1330 1010 C1312 1043 1296 1059 1285 1110 C1274 1161 1290 1192 1280 1240 C1270 1288 1258 1279 1240 1330 C1222 1381 1226 1444 1200 1470 C1174 1496 1131 1481 1120 1450 C1109 1419 1148 1363 1150 1330 C1152 1297 1148 1289 1130 1300 C1112 1311 1086 1380 1070 1380 C1054 1380 1058 1348 1058 1300 C1058 1252 1078 1180 1072 1160 C1066 1140 1044 1207 1030 1210 C1016 1213 998 1206 1008 1175 C1018 1144 1050 1100 1075 1070 Z" fill="#fff" stroke="#5f5f5f" stroke-width="12.0"/><path d="M1120 1040 C1153 1027 1196 1027 1230 1040 C1264 1053 1263 1069 1275 1100 C1287 1131 1284 1149 1285 1180 C1286 1211 1290 1207 1280 1240 C1270 1273 1254 1293 1240 1330 C1226 1367 1224 1379 1215 1410 C1206 1441 1221 1461 1200 1470 C1179 1479 1133 1470 1120 1450 C1107 1430 1133 1406 1140 1380 C1147 1354 1152 1348 1150 1330 C1148 1312 1142 1296 1130 1300 C1118 1304 1108 1332 1095 1350 C1082 1368 1078 1391 1070 1380 C1062 1369 1058 1344 1058 1300 C1058 1256 1066 1224 1070 1180 C1074 1136 1067 1131 1078 1100 C1089 1069 1087 1053 1120 1040 Z" fill="#f7d768" stroke="#5f5f5f" stroke-width="12.0"/><path d="M1130 1045 L1210 1045 L1205 1115 L1135 1115 Z" fill="#fff" stroke="#5f5f5f" stroke-width="11.0"/><path d="M1105 905 C1111 884 1111 874 1130 860 C1149 846 1164 840 1190 840 C1216 840 1229 845 1250 860 C1271 875 1276 886 1285 910 C1294 934 1294 947 1290 970 C1286 993 1282 1000 1265 1015 C1248 1030 1238 1034 1215 1038 C1192 1042 1181 1042 1160 1035 C1139 1028 1133 1023 1120 1005 C1107 987 1105 977 1102 955 C1099 933 1099 926 1105 905 Z" fill="#fff" stroke="#5f5f5f" stroke-width="12.0"/><path d="M1108 900 C1105 894 1109 872 1125 855 C1141 838 1152 828 1180 822 C1208 816 1231 833 1250 830 C1269 827 1258 804 1265 808 C1272 812 1274 833 1282 850 C1290 867 1296 868 1300 885 C1304 902 1302 908 1298 925 C1294 942 1289 966 1280 962 C1271 958 1273 925 1255 905 C1237 885 1225 878 1200 872 C1175 866 1160 874 1140 880 C1120 886 1111 906 1108 900 Z" fill="#f7d768" stroke="#5f5f5f" stroke-width="12.0"/><circle cx="1155" cy="952" r="6" fill="#5f5f5f"/><circle cx="1200" cy="946" r="6" fill="#5f5f5f"/><path d="M1150 992 C1160 998 1170 998 1180 992" fill="none" stroke="#5f5f5f" stroke-width="9.0"/><path d="M1082 1462 C1093 1455 1116 1464 1140 1468 C1164 1472 1179 1469 1192 1482 C1205 1495 1207 1516 1198 1525 C1189 1534 1173 1527 1150 1522 C1127 1517 1107 1515 1092 1502 C1077 1489 1071 1469 1082 1462 Z" fill="#f7d768" stroke="#5f5f5f" stroke-width="12.0"/><path d="M1310 915 C1313 901 1322 889 1335 885 C1348 881 1359 885 1368 895 C1377 905 1381 916 1378 930 C1375 944 1367 954 1355 958 C1343 962 1332 959 1322 950 C1312 941 1307 929 1310 915 Z" fill="#fff" stroke="#5f5f5f" stroke-width="11.0"/><path d="M1012 1172 C1018 1163 1024 1158 1035 1160 C1046 1162 1056 1169 1060 1180 C1064 1191 1062 1203 1055 1212 C1048 1221 1040 1225 1030 1222 C1020 1219 1014 1211 1010 1200 C1006 1189 1006 1181 1012 1172 Z" fill="#fff" stroke="#5f5f5f" stroke-width="10.0"/><path d="M1450 480 C1472 457 1483 459 1520 455 C1557 451 1583 450 1620 460 C1657 470 1668 478 1690 500 C1712 522 1711 529 1722 560 C1733 591 1745 592 1740 640 C1735 688 1691 710 1700 780 C1709 850 1745 879 1780 960 C1815 1041 1864 1104 1860 1150 C1856 1196 1795 1201 1760 1170 C1725 1139 1724 1069 1700 1010 C1676 951 1681 898 1650 900 C1619 902 1597 967 1560 1020 C1523 1073 1515 1109 1480 1140 C1445 1171 1415 1191 1400 1160 C1385 1129 1406 1057 1410 1000 C1414 943 1426 910 1420 900 C1414 890 1404 944 1385 955 C1366 966 1352 962 1335 950 C1318 938 1309 924 1310 900 C1311 876 1325 884 1340 840 C1355 796 1362 762 1380 700 C1398 638 1405 608 1420 560 C1435 512 1428 503 1450 480 Z" fill="#fff" stroke="#5f5f5f" stroke-width="12.0"/><path d="M1480 850 C1513 826 1605 832 1650 850 C1695 868 1674 897 1685 930 C1696 963 1701 963 1700 1000 C1699 1037 1689 1060 1680 1100 C1671 1140 1651 1143 1660 1180 C1669 1217 1696 1235 1720 1270 C1744 1305 1770 1314 1770 1340 C1770 1366 1744 1397 1720 1390 C1696 1383 1686 1345 1660 1310 C1634 1275 1624 1226 1600 1230 C1576 1234 1572 1288 1550 1330 C1528 1372 1526 1407 1500 1420 C1474 1433 1434 1430 1430 1390 C1426 1350 1460 1304 1480 1240 C1500 1176 1516 1162 1520 1100 C1524 1038 1509 1015 1500 960 C1491 905 1447 874 1480 850 Z" fill="#f7d768" stroke="#5f5f5f" stroke-width="12.0"/><path d="M1482 265 C1488 240 1483 230 1500 215 C1517 200 1534 195 1560 195 C1586 195 1599 201 1620 215 C1641 229 1644 237 1655 260 C1666 283 1671 297 1668 320 C1665 343 1653 347 1640 365 C1627 383 1628 384 1610 400 C1592 416 1580 432 1560 440 C1540 448 1535 444 1520 435 C1505 426 1500 423 1490 400 C1480 377 1477 360 1475 330 C1473 300 1476 290 1482 265 Z" fill="#fff" stroke="#5f5f5f" stroke-width="12.0"/><path d="M1482 262 C1482 253 1491 225 1510 210 C1529 195 1544 190 1570 192 C1596 194 1609 201 1630 220 C1651 239 1657 256 1665 280 C1673 304 1670 312 1665 330 C1660 348 1654 362 1640 362 C1626 362 1619 345 1600 330 C1581 315 1574 313 1555 295 C1536 277 1528 257 1512 250 C1496 243 1482 271 1482 262 Z" fill="#f7d768" stroke="#5f5f5f" stroke-width="12.0"/><path d="M1620 380 C1624 368 1654 375 1675 385 C1696 395 1705 406 1715 425 C1725 444 1712 456 1722 470 C1732 484 1748 478 1760 490 C1772 502 1777 511 1775 525 C1773 539 1765 550 1752 552 C1739 554 1729 546 1715 535 C1701 524 1703 521 1690 500 C1677 479 1670 466 1655 440 C1640 414 1616 392 1620 380 Z" fill="#f7d768" stroke="#5f5f5f" stroke-width="12.0"/><circle cx="1510" cy="325" r="6" fill="#5f5f5f"/><circle cx="1552" cy="322" r="6" fill="#5f5f5f"/><path d="M1515 385 C1525 392 1540 390 1550 382 C1545 406 1525 408 1515 385 Z" fill="#f7d768" stroke="#5f5f5f" stroke-width="9.0"/><path d="M1560 625 L1740 545 L1870 532 L1890 740 L1660 830 Z" fill="#fff" stroke="#5f5f5f" stroke-width="12.0"/><path d="M1790 545 L1830 538 L1850 750 L1812 762 Z" fill="#f7d768"/><path d="M1650 800 L1890 737 L1890 765 L1660 836 Z" fill="#f7d768" stroke="#5f5f5f" stroke-width="12.0"/><path d="M1600 470 L1650 540 L1620 600 M1760 545 L1790 760 M1450 480 L1500 560 L1470 850 M1500 500 C1540 520 1580 510 1600 490 M1650 900 L1760 1170 M1420 900 L1400 1160 M1560 880 L1520 1100" fill="none" stroke="#5f5f5f" stroke-width="11.0"/><path d="M1585 545 C1596 534 1621 540 1635 552 C1649 564 1648 580 1650 600 C1652 620 1656 634 1645 645 C1634 656 1613 660 1600 650 C1587 640 1588 623 1585 600 C1582 577 1574 556 1585 545 Z" fill="#fff" stroke="#5f5f5f" stroke-width="11.0"/><path d="M1312 1440 C1319 1433 1338 1439 1360 1442 C1382 1445 1381 1441 1410 1452 C1439 1463 1476 1471 1490 1490 C1504 1509 1490 1530 1475 1538 C1460 1546 1443 1535 1420 1528 C1397 1521 1390 1520 1370 1508 C1350 1496 1343 1490 1330 1475 C1317 1460 1305 1447 1312 1440 Z" fill="#f7d768" stroke="#5f5f5f" stroke-width="12.0"/><path d="M1700 1480 C1704 1460 1725 1452 1745 1430 C1765 1408 1773 1384 1790 1380 C1807 1376 1818 1394 1822 1410 C1826 1426 1817 1437 1810 1455 C1803 1473 1809 1478 1790 1492 C1771 1506 1745 1523 1725 1520 C1705 1517 1696 1500 1700 1480 Z" fill="#f7d768" stroke="#5f5f5f" stroke-width="12.0"/><path d="M1430 1390 C1448 1383 1487 1402 1500 1420 C1513 1438 1508 1463 1490 1470 C1472 1477 1433 1468 1420 1450 C1407 1432 1412 1397 1430 1390 Z" fill="#fff" stroke="#5f5f5f" stroke-width="11.0"/></g><g transform="translate(1410 2325) scale(0.07794)" stroke-linecap="round" stroke-linejoin="round" ><path d="M770 575 C700 590 670 610 640 650 L530 850 L395 780 L300 880 L300 915 L470 1090 C520 1140 580 1150 620 1110 L690 1030 L700 1668 L1390 1668 L1440 1300 C1470 1200 1480 1100 1440 1000 L1340 700 C1320 620 1280 560 1170 545 L1090 520 L1060 560 L850 620 Z" fill="#fff" stroke="#5f5f5f" stroke-width="22.0"/><path d="M165 500 C175 485 195 490 205 505 L330 660 C350 700 350 740 385 780 L300 872 C250 830 200 800 170 770 C120 740 110 700 140 670 C170 650 200 640 215 622 L160 520 Z" fill="#fff" stroke="#5f5f5f" stroke-width="22.0"/><path d="M150 700 C170 690 190 700 200 720 M175 660 C200 655 220 670 228 695 M235 640 C265 650 275 690 262 720 M300 872 C340 850 370 820 392 790" fill="none" stroke="#5f5f5f" stroke-width="20.0"/><path d="M850 560 L850 625 C900 660 980 660 1025 630 L1040 540 Z" fill="#fff" stroke="#5f5f5f" stroke-width="22.0"/><path d="M770 330 C770 470 800 590 910 600 C1000 595 1050 520 1062 430 L1075 320 C1110 300 1130 340 1115 380 C1105 410 1085 420 1068 415 L1090 300 L830 215 Z" fill="#fff" stroke="#5f5f5f" stroke-width="22.0"/><path d="M760 320 C740 180 820 85 935 80 C1050 80 1120 180 1105 300 C1085 320 1060 330 1040 325 C980 310 930 270 910 225 C925 270 905 300 920 310 C890 300 850 270 830 215 C810 250 790 290 760 320 Z" fill="#f7d768" stroke="#5f5f5f" stroke-width="22.0"/><circle cx="860" cy="385" r="13" fill="#5f5f5f"/><circle cx="975" cy="385" r="13" fill="#5f5f5f"/><circle cx="908" cy="470" r="10" fill="#5f5f5f"/><ellipse cx="918" cy="535" rx="40" ry="27" fill="#5f5f5f"/><path d="M715 595 L760 580 L1035 1005 L992 1032 Z" fill="#f7d768" stroke="#5f5f5f" stroke-width="20.0"/><path d="M990 1030 C1000 1000 1040 990 1070 1000 L1272 1150 L1252 1312 C1200 1310 1150 1280 1100 1240 C1030 1180 970 1100 990 1030 Z" fill="#f7d768" stroke="#5f5f5f" stroke-width="22.0"/><path d="M1040 1075 L1225 1222" fill="none" stroke="#5f5f5f" stroke-width="20.0"/><path d="M695 790 L700 1668 M775 800 L780 1668 M1060 560 L1020 950 M1020 1230 L1060 1668 M1090 520 L1180 620 L1080 680 M1190 820 L1290 1080 C1310 1150 1290 1250 1250 1390 M390 778 L545 928 M640 650 L530 850 M840 1475 C900 1470 960 1440 1010 1405 M800 1530 C880 1570 960 1580 1030 1575" fill="none" stroke="#5f5f5f" stroke-width="20.0"/></g>
<g transform="translate(3180 2320) scale(0.16787)" stroke-linecap="round" stroke-linejoin="round" ><path d="M200 202 C211.61599999999999 259.024 230.976 278.384 288 290 C230.976 301.616 211.61599999999999 320.976 200 378 C188.38400000000001 320.976 169.024 301.616 112 290 C169.024 278.384 188.38400000000001 259.024 200 202 Z" fill="#f7d768" stroke="#fff" stroke-width="30" paint-order="stroke" stroke-linejoin="round"/><path d="M200 202 C211.61599999999999 259.024 230.976 278.384 288 290 C230.976 301.616 211.61599999999999 320.976 200 378 C188.38400000000001 320.976 169.024 301.616 112 290 C169.024 278.384 188.38400000000001 259.024 200 202 Z" fill="#f7d768" stroke="#f7d768" stroke-width="10" stroke-linejoin="round"/><path d="M1240 322 C1250.296 372.544 1267.456 389.704 1318 400 C1267.456 410.296 1250.296 427.456 1240 478 C1229.704 427.456 1212.544 410.296 1162 400 C1212.544 389.704 1229.704 372.544 1240 322 Z" fill="#f7d768" stroke="#fff" stroke-width="30" paint-order="stroke" stroke-linejoin="round"/><path d="M1240 322 C1250.296 372.544 1267.456 389.704 1318 400 C1267.456 410.296 1250.296 427.456 1240 478 C1229.704 427.456 1212.544 410.296 1162 400 C1212.544 389.704 1229.704 372.544 1240 322 Z" fill="#f7d768" stroke="#f7d768" stroke-width="10" stroke-linejoin="round"/><path d="M1365 160 H1455 M1410 115 V205" fill="none" stroke="#fff" stroke-width="46"/><path d="M1365 160 H1455 M1410 115 V205" fill="none" stroke="#f7d768" stroke-width="22"/><path d="M308 580 H412 M360 528 V632" fill="none" stroke="#fff" stroke-width="46"/><path d="M308 580 H412 M360 528 V632" fill="none" stroke="#f7d768" stroke-width="22"/><line x1="1360" y1="508" x2="1330" y2="585" stroke="#fff" stroke-width="40"/><line x1="1445" y1="548" x2="1380" y2="605" stroke="#fff" stroke-width="40"/><line x1="1478" y1="636" x2="1415" y2="660" stroke="#fff" stroke-width="40"/><line x1="1360" y1="508" x2="1330" y2="585" stroke="#f7d768" stroke-width="17"/><line x1="1445" y1="548" x2="1380" y2="605" stroke="#f7d768" stroke-width="17"/><line x1="1478" y1="636" x2="1415" y2="660" stroke="#f7d768" stroke-width="17"/><path d="M830 95 C700 90 620 180 590 300 C570 400 540 500 510 560 C490 620 520 680 560 700 L600 690 L640 722 L470 800 C420 830 400 900 415 960 L560 1480 C580 1530 650 1550 700 1540 C760 1530 800 1500 830 1450 L1100 1425 L1130 1400 C1160 1470 1200 1500 1250 1500 C1310 1500 1350 1450 1355 1380 L1350 1190 L1350 1100 L1430 1060 C1460 1020 1470 950 1440 900 L1365 860 L1365 690 C1365 672 1355 665 1340 665 L1075 665 C1058 665 1050 675 1050 690 L1050 870 L1010 830 L990 700 L1030 500 L1050 340 C1060 250 1000 120 870 100 Z" fill="#fff" stroke="#fff" stroke-width="40" stroke-linejoin="round"/><path d="M830 95 C700 90 620 180 590 300 C570 400 540 500 510 560 C490 620 520 680 560 700 C590 690 600 670 600 640 C620 700 600 730 560 745 L640 722 L720 700 L990 700 L1010 830 L1030 500 L1050 340 C1060 250 1000 120 870 100 Z" fill="#f7d768"/><path d="M640 722 L470 800 C420 830 400 900 415 960 L560 1480 C580 1530 650 1550 700 1540 C760 1530 800 1500 830 1450 L1100 1425 L1130 1400 C1160 1470 1200 1500 1250 1500 C1310 1500 1350 1450 1355 1380 L1350 1190 L1220 1180 L1210 1100 L1180 1000 L1100 1000 L1060 1060 L900 1280 L800 1190 L900 1000 L1000 870 L1010 830 L970 762 C900 800 800 800 700 770 Z" fill="#f7d768"/><path d="M735 620 L750 735 C820 790 900 790 965 765 L985 640 Z" fill="#fff"/><path d="M710 400 C700 500 710 600 740 640 C800 680 900 680 960 640 C1010 600 1030 500 1030 350 C1020 310 1000 270 975 230 C960 260 930 300 870 330 C900 300 910 260 900 210 C850 290 780 330 720 330 Z" fill="#fff"/><path d="M690 380 C640 360 610 400 620 450 C630 490 660 500 682 492" fill="#fff" stroke="#666666" stroke-width="16"/><path d="M960 1050 L1060 1060 L900 1280 L800 1190 Z" fill="#fff"/><path d="M1230 1100 L1350 1100 L1350 1190 L1220 1180 Z" fill="#fff"/><rect x="1050" y="665" width="315" height="325" rx="26" fill="#f7d768" stroke="#666666" stroke-width="14"/><rect x="1057" y="782" width="301" height="38" fill="#fff"/><path d="M1057 775 H1358 M1057 830 H1358" fill="none" stroke="#666666" stroke-width="12" stroke-linecap="butt"/><path d="M940 985 C960 900 1020 862 1080 880 L1102 930 L1092 1000 L1020 1100 L955 1060 Z" fill="#fff" stroke="#666666" stroke-width="16"/><path d="M1240 950 C1280 880 1380 862 1440 900 C1470 950 1460 1020 1430 1060 L1350 1100 L1250 1100 L1250 1050 Z" fill="#fff" stroke="#666666" stroke-width="16"/><path d="M965 945 L1075 910 M975 1000 L1085 955 M1000 1050 L1070 1015 M1265 960 L1400 915 M1270 1010 L1420 960 M1300 1045 L1400 1010" fill="none" stroke="#666666" stroke-width="16"/><path d="M805 98 C700 100 620 180 590 300 C570 400 540 500 510 560 C490 620 520 680 560 700 M870 100 C1000 120 1060 250 1050 340 M600 640 C620 700 600 730 530 720 M660 590 C665 640 650 690 620 720 M710 400 C700 500 700 640 750 720 M725 600 C780 680 900 690 985 635 M1025 360 C1030 500 1010 600 985 640 M720 330 C740 290 750 260 765 245 M810 335 C830 290 840 260 850 245 M870 330 C900 300 915 260 910 210 M950 230 C975 270 1000 310 1005 350 M950 347 C970 335 990 340 1000 357 M645 725 C700 790 850 820 960 770 M920 725 L1010 765 M990 760 L1010 830 M880 700 C885 720 900 735 920 730" fill="none" stroke="#666666" stroke-width="16"/><path d="M640 722 L470 800 C420 830 400 900 415 960 L560 1480 C580 1530 650 1550 700 1540 C760 1530 800 1500 830 1450 L920 1290 M545 858 C600 900 620 960 630 1000 M900 1005 L800 1190 L655 1315 M1060 1060 L900 1280 M1115 1075 C1120 1200 1110 1350 1100 1425 M1130 1400 C1160 1470 1200 1500 1250 1500 C1310 1500 1350 1450 1355 1380 L1350 1190 L1220 1180 M1200 1190 L1185 1280 M1180 1010 L1210 1100 M1350 1100 L1350 1190" fill="none" stroke="#666666" stroke-width="16"/><circle cx="835" cy="415" r="12" fill="#666666"/><circle cx="955" cy="415" r="12" fill="#666666"/><circle cx="920" cy="497" r="10" fill="#666666"/><path d="M855 570 C880 550 920 545 945 555 C940 600 910 615 885 612 C870 605 860 590 855 570 Z" fill="#fff" stroke="#666666" stroke-width="16"/></g></svg>
<span class="t" style="left:465.98px;top:70.86px;font-size:85.94px;letter-spacing:8.7px;font-weight:900;color:#00acc4">アドバイス一切なし</span>
<span class="t" style="left:260.96px;top:262.0px;font-size:76.92px;letter-spacing:-0.6px;font-weight:700;color:#00acc4">カウンセラーなど</span>
<span class="t" style="left:889.77px;top:251.37px;font-size:91.15px;letter-spacing:1.7px;font-weight:900;color:#00acc4">不要な時代</span>
<span class="t" style="left:1359.83px;top:264.55px;font-size:73.86px;letter-spacing:9.74px;font-weight:700;color:#00acc4">です</span>
<span class="t" style="left:229.09px;top:739.68px;font-size:45.31px;letter-spacing:4.84px;font-weight:900;color:#fff">無料の</span>
<span class="t" style="left:380.27px;top:730.17px;font-size:54.36px;letter-spacing:-3.06px;font-weight:900;color:#fff;font-family:'Noto Sans CJK JP',sans-serif">AI</span>
<span class="t" style="left:435.34px;top:740.84px;font-size:43.27px;letter-spacing:3.46px;font-weight:900;color:#fff">ツール</span>
<span class="t" style="left:755.55px;top:376.85px;font-size:315.68px;letter-spacing:0px;font-weight:400;color:#00acc4;font-family:'DejaVu Sans','Liberation Sans',sans-serif;-webkit-text-stroke:3.6px #00acc4;transform:scaleY(1.1075);transform-origin:0 0">&gt;</span>
<span class="t" style="left:668.87px;top:728.25px;font-size:75.26px;letter-spacing:7.36px;font-weight:900;color:#00acc4">圧倒的</span>
<span class="t" style="left:916.61px;top:738.15px;font-size:65.45px;letter-spacing:0.6px;font-weight:900;color:#727171">に優秀</span>
<span class="t" style="left:1229.1px;top:736.53px;font-size:48.6px;letter-spacing:-0.82px;font-weight:900;color:#fff">カウンセラー</span>
<span class="t" style="left:192.81px;top:880.25px;font-size:62.84px;letter-spacing:-3.11px;font-weight:700;color:#595757;font-family:'Noto Sans CJK JP',sans-serif">AI</span>
<span class="t" style="left:260.42px;top:891.29px;font-size:51.55px;letter-spacing:4.87px;font-weight:700;color:#595757">が発達した現代、カウンセラーは</span>
<span class="t" style="left:1113.25px;top:876.05px;font-size:69.95px;letter-spacing:0.31px;font-weight:900;color:#00acc4">過去の遺物</span>
<span class="t" style="left:1478.92px;top:890.45px;font-size:51.14px;letter-spacing:3.13px;font-weight:700;color:#595757">です</span>
<span class="t" style="left:2200.44px;top:70.89px;font-size:89.01px;letter-spacing:4.92px;font-weight:900;color:#00acc4">実店舗を持ちません</span>
<span class="t" style="left:1888.02px;top:265.75px;font-size:74.74px;letter-spacing:3.49px;font-weight:700;color:#00acc4">オンライン完結だから、全国に</span>
<span class="t" style="left:2991.66px;top:255.89px;font-size:89.01px;letter-spacing:2.96px;font-weight:900;color:#00acc4">店舗不要</span>
<span class="t halo2" style="left:2495.88px;top:405.96px;font-size:300.17px;letter-spacing:0px;font-weight:700;color:#00acc4;font-family:'DejaVu Sans','Liberation Sans',sans-serif;transform:scaleY(1.0);transform-origin:0 0">×</span>
<span class="t" style="left:2044.01px;top:880.32px;font-size:66.15px;letter-spacing:4.52px;font-weight:900;color:#00acc4">全国対応可能</span>
<span class="t" style="left:2475.85px;top:890.54px;font-size:53.68px;letter-spacing:2.31px;font-weight:700;color:#595757">、店舗など固定費の無駄です</span>
<span class="t" style="left:508.7px;top:1073.8px;font-size:86.53px;letter-spacing:9.18px;font-weight:900;color:#00acc4">勧誘一切しません</span>
<span class="t" style="left:107.53px;top:1268.24px;font-size:73.68px;letter-spacing:1.92px;font-weight:700;color:#00acc4">結局、結婚相談所運営で</span>
<span class="t" style="left:959.29px;top:1250.92px;font-size:91.62px;letter-spacing:-3.4px;font-weight:900;color:#00acc4">一番かかるコスト</span>
<span class="t" style="left:246.12px;top:1432.08px;font-size:34.39px;letter-spacing:4.09px;font-weight:700;color:#333333;font-family:'Noto Sans CJK JP',sans-serif">一度お話を…</span>
<span class="t" style="left:762.32px;top:1409.5px;font-size:299.83px;letter-spacing:0px;font-weight:700;color:#00acc4;font-family:'DejaVu Sans','Liberation Sans',sans-serif;transform:scaleY(1.0006);transform-origin:0 0">×</span>
<span class="t" style="left:1071.58px;top:1433.05px;font-size:36.65px;letter-spacing:1.3px;font-weight:700;color:#333333">今入会すると</span>
<span class="t" style="left:156.89px;top:1739.72px;font-size:47.92px;letter-spacing:0.34px;font-weight:900;color:#fff">お馴染みのしつこい勧誘電話</span>
<span class="t" style="left:1019.05px;top:1739.95px;font-size:47.67px;letter-spacing:0.2px;font-weight:900;color:#fff">無料相談会という名の勧誘</span>
<span class="t" style="left:123.31px;top:1888.01px;font-size:51.05px;letter-spacing:4.28px;font-weight:700;color:#595757">くだらない事にお金をかけず</span>
<span class="t" style="left:845.31px;top:1876.85px;font-size:61.54px;letter-spacing:7.95px;font-weight:900;color:#00acc4">良いサービス</span>
<span class="t" style="left:1263.91px;top:1892.74px;font-size:47.87px;letter-spacing:8.26px;font-weight:700;color:#595757">を提供するだけ</span>
<span class="t" style="left:855.59px;top:2021.08px;font-size:63.83px;letter-spacing:0px;font-weight:400;color:#dff1fb;font-family:'Noto Sans CJK JP',sans-serif;transform:scaleY(0.9671);transform-origin:0 0">▼</span>
<span class="t" style="left:2106.68px;top:1074.82px;font-size:82.2px;letter-spacing:3.85px;font-weight:900;color:#00acc4">複数の連盟に加盟しません</span>
<span class="t" style="left:2319.17px;top:1232.83px;font-size:110.34px;letter-spacing:0.0px;font-weight:900;color:#00acc4;font-family:'Noto Sans CJK JP',sans-serif">1</span>
<span class="t" style="left:2386.13px;top:1255.86px;font-size:85.94px;letter-spacing:7.33px;font-weight:900;color:#00acc4">つで十分</span>
<span class="t" style="left:2767.83px;top:1264.55px;font-size:73.86px;letter-spacing:4.74px;font-weight:700;color:#00acc4">です</span>
<span class="t" style="left:1949.02px;top:1875.15px;font-size:65.45px;letter-spacing:5.95px;font-weight:900;color:#00acc4">加盟数マウント</span>
<span class="t" style="left:2447.08px;top:1890.03px;font-size:52.63px;letter-spacing:4.1px;font-weight:700;color:#595757">の取り合いは、コストの無駄です</span>
<span class="t" style="left:2588.09px;top:2020.58px;font-size:63.83px;letter-spacing:0px;font-weight:400;color:#dff1fb;font-family:'Noto Sans CJK JP',sans-serif;transform:scaleY(0.9671);transform-origin:0 0">▼</span>
<span class="t" style="left:181.71px;top:2512.89px;font-size:39.27px;letter-spacing:5.11px;font-weight:900;color:#fff">既存相談所</span>
<span class="t" style="left:580.72px;top:2510.72px;font-size:44.52px;letter-spacing:1.92px;font-weight:700;color:#fff;font-family:'DejaVu Sans','Liberation Sans',sans-serif">mirai</span>
<span class="t" style="left:1523.43px;top:2165.45px;font-size:44.74px;letter-spacing:9.11px;font-weight:900;color:#00acc4">大幅</span>
<span class="t" style="left:965.78px;top:2218.79px;font-size:85.94px;letter-spacing:9.92px;font-weight:900;color:#00acc4">無駄な</span>
<span class="t" style="left:1258.51px;top:2228.62px;font-size:74.48px;letter-spacing:4.87px;font-weight:900;color:#727171">人件費削減</span>
<span class="t" style="left:988.61px;top:2423.43px;font-size:46.39px;letter-spacing:1.91px;font-weight:900;color:#00acc4">婚活に大金を使わず</span>
<span class="t halo" style="left:989.54px;top:2488.43px;font-size:46.39px;letter-spacing:2.93px;font-weight:900;color:#00acc4">結婚後の新生活に活用を</span>
<span class="t" style="left:1914.21px;top:2512.89px;font-size:39.27px;letter-spacing:5.11px;font-weight:900;color:#fff">既存相談所</span>
<span class="t" style="left:2313.22px;top:2510.72px;font-size:44.52px;letter-spacing:1.92px;font-weight:700;color:#fff;font-family:'DejaVu Sans','Liberation Sans',sans-serif">mirai</span>
<span class="t" style="left:3280.43px;top:2164.95px;font-size:44.74px;letter-spacing:7.61px;font-weight:900;color:#00acc4">大幅</span>
<span class="t" style="left:2709.74px;top:2217.89px;font-size:88.54px;letter-spacing:5.81px;font-weight:900;color:#00acc4">固定費</span>
<span class="t" style="left:2995.83px;top:2219.7px;font-size:93.38px;letter-spacing:0.0px;font-weight:700;color:#00acc4;font-family:'DejaVu Sans','Liberation Sans',sans-serif">0</span>
<span class="t" style="left:3089.74px;top:2228.13px;font-size:75.52px;letter-spacing:3.85px;font-weight:900;color:#727171">経費削減</span>
<span class="t" style="left:2716.64px;top:2422.71px;font-size:47.12px;letter-spacing:3.27px;font-weight:900;color:#00acc4">どこよりもお手軽に</span>
<span class="t halo" style="left:2722.54px;top:2488.61px;font-size:45.92px;letter-spacing:3.61px;font-weight:900;color:#00acc4">結婚相談所が活用できます</span>
</div></body></html>
